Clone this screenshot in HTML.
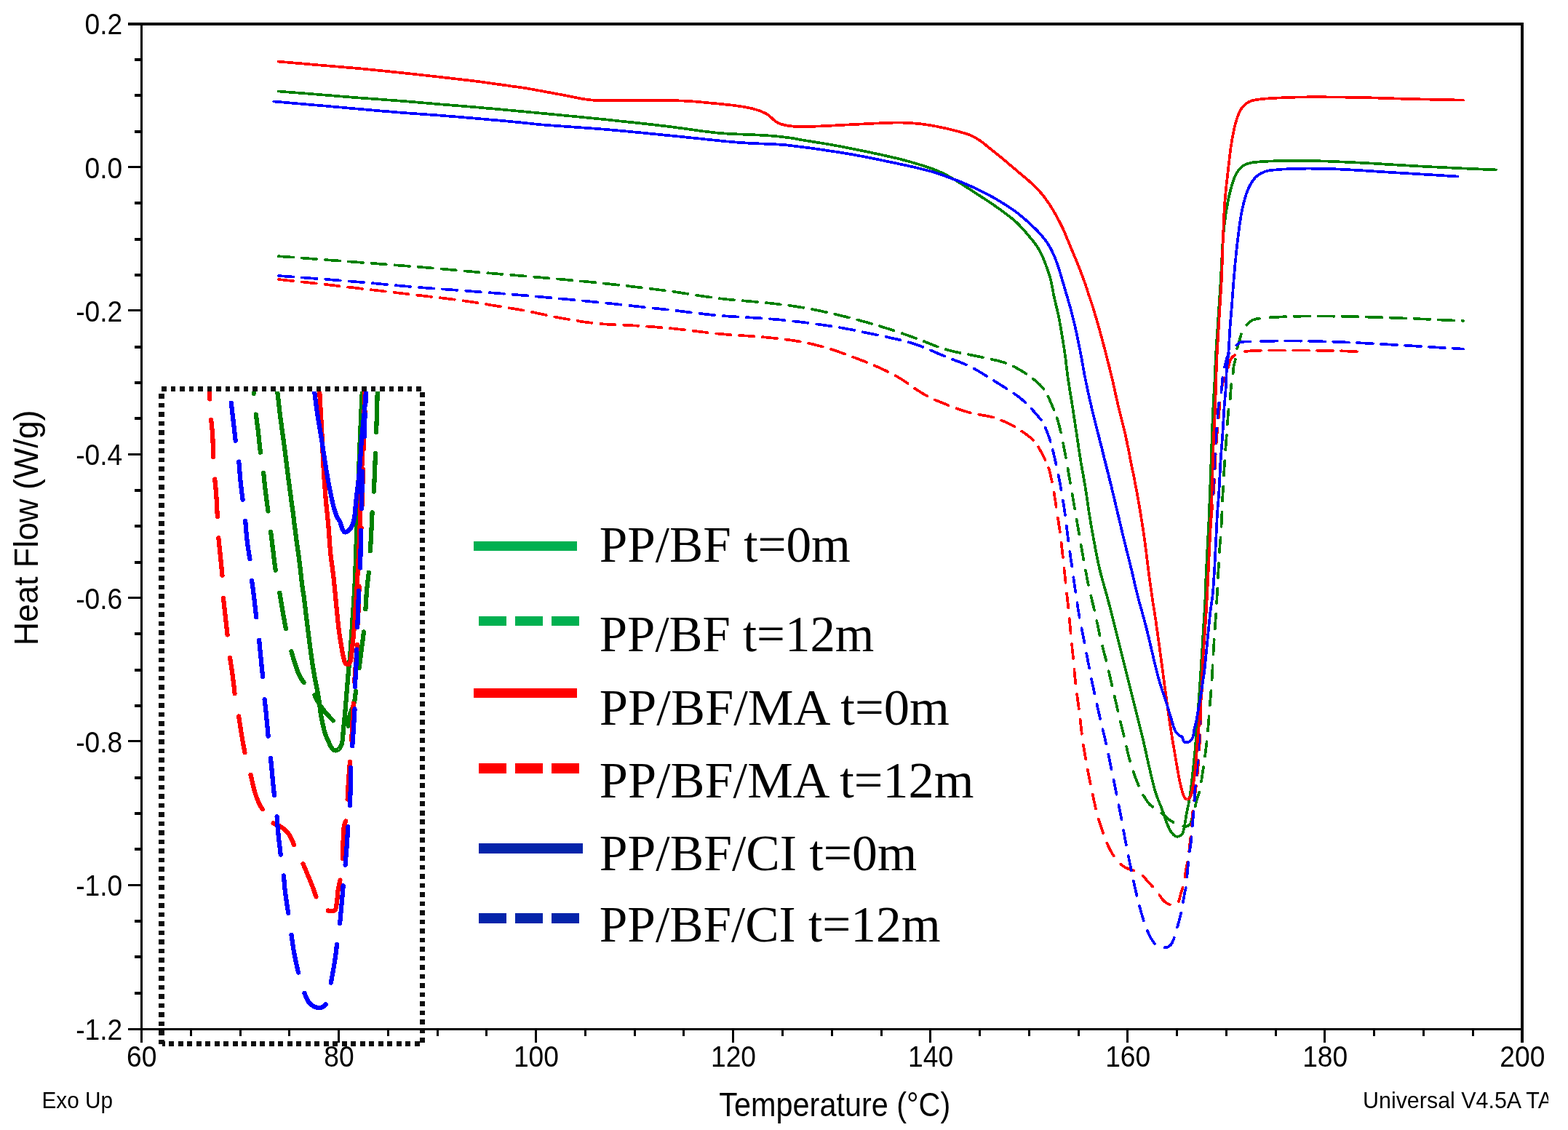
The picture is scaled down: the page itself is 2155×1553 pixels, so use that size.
<!DOCTYPE html>
<html lang="en"><head><meta charset="utf-8"><title>DSC Heat Flow vs Temperature</title>
<style>
html,body{margin:0;padding:0;background:#fff;}
body{width:2155px;height:1553px;overflow:hidden;}
svg{display:block;}
.ax{font-family:"Liberation Sans",Arial,Helvetica,sans-serif;fill:#000;}
.lg{font-family:"Liberation Serif","DejaVu Serif",serif;fill:#000;}
</style></head><body>
<svg width="2155" height="1553" viewBox="0 0 2155 1553" role="img" aria-label="DSC heat flow versus temperature chart">
<rect x="0" y="0" width="2155" height="1553" fill="#fff"/>
<defs><clipPath id="cin"><rect x="226" y="538" width="351" height="893"/></clipPath><clipPath id="cpage"><rect x="0" y="0" width="2128" height="1553"/></clipPath></defs>
<g fill="none" stroke-width="3.7" stroke-linejoin="round" stroke-linecap="round" shape-rendering="crispEdges">
<path d="M381 352L385.9 352.4L393.5 353L404.6 353.8L418.3 354.8L433.4 356L449 357.2L463.9 358.3L477.5 359.3L490.1 360.3L502.2 361.2L514.2 362.1L526.1 363L538.1 364L550.1 364.9L562 365.8L574.1 366.8L586.4 367.8L598.9 368.9L611.5 370L624 371.1L636.3 372.2L648.1 373.3L659.2 374.2L668.8 375.1L676.7 375.7L683.3 376.3L689.3 376.8L695.1 377.3L700.9 377.8L706.9 378.3L713.6 378.8L721.6 379.5L731.5 380.4L743 381.4L755.4 382.5L768.2 383.6L781.3 384.8L794.5 386L807.6 387.2L820.5 388.5L833.3 389.9L846.1 391.3L859 392.7L871.9 394.2L884.6 395.7L897 397.2L909 398.7L919.9 400.1L929.6 401.5L938.5 402.8L946.9 404.1L955.2 405.4L963.3 406.7L971.5 407.9L979.7 409.1L988 410.1L996.4 411.1L1004.9 411.9L1013.4 412.7L1022 413.4L1030.4 414.1L1038.7 414.8L1046.8 415.5L1054.4 416.3L1061.4 417L1067.9 417.8L1074.2 418.6L1080.4 419.3L1086.6 420.2L1092.8 421.1L1098.9 422L1105.1 423L1111.4 424.2L1117.7 425.4L1124 426.6L1130.3 428L1136.6 429.3L1142.9 430.8L1149.1 432.2L1155.4 433.7L1161.7 435.2L1168 436.8L1174.3 438.4L1180.5 440.1L1186.8 441.8L1193.1 443.5L1199.3 445.3L1205.6 447.1L1211.9 449.1L1218.3 451.1L1224.6 453.1L1230.9 455.2L1237.2 457.3L1243.5 459.5L1249.6 461.6L1255.6 463.8L1261.4 465.9L1266.9 468.1L1272.4 470.2L1277.9 472.4L1283.3 474.6L1288.8 476.6L1294.4 478.5L1300.2 480.3L1306.3 482L1312.6 483.5L1319 484.9L1325.5 486.2L1331.9 487.4L1338.2 488.6L1344.2 489.8L1349.7 491L1354.6 492.1L1359.1 493L1363.4 494L1367.7 494.9L1371.8 495.9L1375.8 497L1379.8 498.2L1383.6 499.5L1387.2 501L1390.8 502.6L1394.2 504.2L1397.6 506L1400.9 507.9L1404.1 509.8L1407.3 511.8L1410.5 513.9L1413.7 516.1L1416.8 518.4L1420 520.8L1423 523.2L1426 525.7L1428.8 528.4L1431.5 531.2L1433.9 534.1L1436.1 537.2L1438.1 540.5L1440 544L1441.7 547.6L1443.3 551.1L1444.8 554.5L1446.1 557.6L1447.2 560.2L1448.1 562.2L1448.7 563.7L1449.3 565.1L1449.9 566.4L1450.4 567.7L1450.9 569.1L1451.5 570.6L1452.1 572.5" stroke="#008000" stroke-dasharray="20.34 11.70" stroke-dashoffset="-1.85"/>
<path d="M1452.1 572.5L1452.8 574.8L1453.6 577.4L1454.5 580.3L1455.3 583.3L1456.1 586.4L1456.9 589.6L1457.7 593L1458.5 596.5L1459.4 600.4L1460.3 604.6L1461.1 609L1462 613.4L1462.8 618L1463.7 622.5L1464.5 627L1465.3 631.5L1466.1 635.9L1466.9 640.3L1467.7 644.7L1468.4 649.1L1469.2 653.5L1470 657.9L1470.7 662.3L1471.5 666.7L1472.3 671.1L1473 675.5L1473.8 680L1474.6 684.4L1475.3 688.8L1476.1 693.2L1476.8 697.6L1477.6 702L1478.3 706.3L1479.1 710.6L1479.8 714.9L1480.5 719.2L1481.3 723.4L1482 727.7L1482.8 732L1483.5 736.3L1484.3 740.7L1485 745.1L1485.8 749.5L1486.6 753.9L1487.3 758.3L1488.1 762.8L1488.9 767.2L1489.7 771.6L1490.5 776L1491.3 780.4L1492.1 784.9L1493 789.3L1493.8 793.7L1494.7 798.1L1495.6 802.5L1496.5 806.9L1497.5 811.3L1498.5 815.7L1499.6 820.1L1500.7 824.5L1501.7 828.9L1502.8 833.3L1503.9 837.7L1504.9 842.1L1505.8 846.4L1506.8 850.7L1507.7 855L1508.6 859.3L1509.5 863.5L1510.4 867.8L1511.3 872.1L1512.3 876.4L1513.4 880.8L1514.5 885.2L1515.6 889.6L1516.7 894L1517.8 898.4L1519 902.9L1520.1 907.3L1521.2 911.7L1522.2 916.1L1523.3 920.5L1524.3 924.9L1525.3 929.3L1526.4 933.7L1527.4 938.1L1528.4 942.5L1529.4 946.9L1530.4 951.2L1531.4 955.5L1532.4 959.8L1533.4 964.1L1534.4 968.4L1535.4 972.7L1536.4 977L1537.4 981.3L1538.4 985.6L1539.4 989.9L1540.5 994.1L1541.5 998.4L1542.6 1002.7L1543.6 1007L1544.6 1011.3L1545.7 1015.6L1546.7 1020L1547.8 1024.4L1548.8 1028.8L1549.8 1033.3L1550.8 1037.7L1552 1042.1L1553.2 1046.5L1554.5 1051L1555.9 1055.6L1557.5 1060.3L1559.2 1065.1L1560.9 1069.8L1562.7 1074.4L1564.4 1078.6L1566 1082.4L1567.3 1085.4L1568.3 1087.5L1569.1 1089.1L1569.8 1090.4L1570.5 1091.6L1571.2 1092.8L1572 1093.9L1572.7 1095.1L1573.5 1096.3L1574.4 1097.6L1575.2 1099L1576.1 1100.3L1577 1101.6L1577.9 1102.9L1578.9 1104.2L1579.9 1105.4L1581 1106.4L1582.2 1107.4L1583.4 1108.3L1584.7 1109.1L1586.1 1109.9L1587.4 1110.7L1588.7 1111.4L1590 1112.2L1591.1 1113L1592.2 1113.8L1593.2 1114.6L1594.1 1115.4L1595 1116.2L1595.9 1117L1596.8 1117.8L1597.7 1118.6L1598.6 1119.4L1599.5 1120.2L1600.4 1121L1601.3 1121.9L1602.2 1122.7L1603.1 1123.5L1604.1 1124.3L1605 1125.1L1606 1125.9L1607.1 1126.7L1608.2 1127.4L1609.4 1128.2L1610.5 1128.9L1611.7 1129.6L1612.9 1130.2L1614.1 1130.9L1615.3 1131.5L1616.4 1132.1L1617.5 1132.6L1618.7 1133.1L1619.8 1133.6L1620.9 1134.1L1622 1134.5L1623.1 1134.9L1624.1 1135.2L1625.1 1135.4L1626 1135.6L1626.9 1135.7L1627.8 1135.8L1628.7 1135.9L1629.5 1135.9L1630.3 1135.8L1631.1 1135.7L1631.8 1135.4L1632.4 1135.1L1633 1134.8L1633.7 1134.4L1634.2 1133.9L1634.8 1133.4L1635.2 1132.9L1635.7 1132.4L1636 1131.8L1636.3 1131.2L1636.6 1130.6L1636.8 1129.9L1637 1129.2L1637.2 1128.4L1637.4 1127.6L1637.7 1126.5L1638.1 1125L1638.7 1123.1L1639.3 1121L1639.9 1118.8L1640.5 1116.5L1641.1 1114.3L1641.6 1112.2L1642.1 1110.3" stroke="#008000" stroke-dasharray="20.83 14.70" stroke-dashoffset="-1.85"/>
<path d="M1642.1 1110.3L1642.6 1108.7L1642.9 1107.2L1643.3 1105.8L1643.6 1104.4L1643.9 1103.1L1644.3 1101.7L1644.6 1100.4L1645 1099L1645.5 1097.5L1645.9 1096.1L1646.4 1094.6L1646.9 1093.1L1647.4 1091.7L1647.9 1090.2L1648.3 1088.8L1648.7 1087.4L1649 1086L1649.3 1084.8L1649.5 1083.6L1649.7 1082.3L1649.9 1081.1L1650.1 1079.8L1650.4 1078.3L1650.7 1076.4L1651.1 1074L1651.5 1071L1652 1067.7L1652.5 1064.3L1653 1060.9L1653.5 1057.7L1653.9 1054.7L1654.2 1052.3L1654.5 1050.5L1654.7 1049.1L1654.9 1047.9L1655.1 1046.7L1655.2 1045.5L1655.4 1044.3L1655.6 1042.9L1655.9 1041.1L1656.2 1038.7L1656.6 1035.7L1657 1032.5L1657.4 1029.1L1657.8 1025.7L1658.2 1022.4L1658.6 1019.4L1658.8 1017L1659 1015.2L1659.2 1013.8L1659.3 1012.6L1659.4 1011.5L1659.5 1010.3L1659.6 1009.1L1659.8 1007.6L1660 1005.6L1660.2 1002.7L1660.5 999L1660.8 994.8L1661.2 990.4L1661.5 985.8L1661.9 981.1L1662.2 976.5L1662.6 972L1663 967.6L1663.3 963.2L1663.7 958.8L1664 954.4L1664.4 950L1664.8 945.5L1665.1 941.1L1665.4 936.7L1665.7 932.3L1665.9 927.9L1666.2 923.5L1666.4 919.1L1666.6 914.7L1666.8 910.3L1667.1 905.9L1667.3 901.5L1667.6 897.2L1667.8 892.8L1668.1 888.5L1668.4 884.1L1668.7 879.8L1668.9 875.6L1669.2 871.3L1669.5 867.2L1669.8 863.3L1670 859.6L1670.3 855.9L1670.6 852.2L1670.8 848.5L1671.1 844.7L1671.3 840.8L1671.6 836.7L1671.9 832.2L1672.2 827.4L1672.5 822.5L1672.7 817.5L1673 812.5L1673.3 807.5L1673.5 802.5L1673.8 797.7L1674 793.1L1674.2 788.7L1674.5 784.2L1674.7 779.8L1674.9 775.4L1675.1 771.1L1675.3 766.7L1675.6 762.3L1675.9 757.9L1676.3 753.5L1676.6 749.1L1677 744.7L1677.4 740.3L1677.8 735.9L1678.1 731.5L1678.4 727.1L1678.6 722.7L1678.8 718.3L1679 713.9L1679.2 709.5L1679.4 705L1679.5 700.6L1679.7 696.2L1679.9 691.8L1680.1 687.4L1680.3 683L1680.6 678.6L1680.8 674.1L1681.1 669.7L1681.3 665.3L1681.5 660.9L1681.8 656.5L1682.1 652.1L1682.3 647.7L1682.6 643.3L1682.8 638.9L1683.1 634.5L1683.4 630.1L1683.7 625.7L1684 621.3L1684.3 616.8L1684.7 612.3L1685 607.8L1685.4 603.3L1685.8 598.8L1686.1 594.4L1686.5 590.2L1686.8 586.3L1687 582.7L1687.2 579.4L1687.4 576.1L1687.6 573L1687.9 570L1688.1 567.1L1688.3 564.5L1688.6 562.3L1688.8 560.7L1689 559.5L1689.3 558.5L1689.5 557.5L1689.7 556.5L1690 555.4L1690.2 554.2L1690.4 552.4L1690.7 550L1690.9 547L1691.1 543.7L1691.3 540.1L1691.5 536.6L1691.8 533.1L1692 530L1692.3 527.5L1692.5 525.6L1692.8 524.1L1693 522.8L1693.3 521.6L1693.6 520.4L1693.8 519.2L1694.1 517.9L1694.3 516.5L1694.5 515L1694.6 513.4L1694.8 511.8L1694.9 510.1L1695.1 508.5L1695.2 506.8L1695.4 505.2L1695.6 503.6L1695.9 502.1L1696.2 500.6L1696.5 499.1L1696.9 497.6L1697.3 496.2L1697.6 494.7L1697.9 493.3L1698.2 491.8L1698.4 490.5L1698.5 489.2L1698.7 487.9L1698.8 486.6L1698.9 485.3L1699.1 484L1699.3 482.7L1699.5 481.4L1699.8 480.1L1700.2 478.8L1700.6 477.5L1701 476.3L1701.4 475L1701.8 473.7L1702.3 472.3L1702.7 470.9L1703.1 469.3L1703.6 467.6L1704 465.9L1704.4 464.2L1704.9 462.4L1705.4 460.7L1706 459L1706.6 457.5L1707.3 456L1708 454.6L1708.7 453.2L1709.5 451.9L1710.4 450.6L1711.3 449.4L1712.2 448.2L1713.1 447L1714 446L1715 444.9L1716 443.9L1717 443L1718.1 442.1L1719.2 441.3L1720.4 440.5L1721.7 439.8L1723.1 439.3L1724.7 438.8L1726.3 438.4L1727.9 438.1L1729.7 437.9L1731.5 437.6L1733.4 437.4L1735.6 437.2L1738.1 436.9L1740.9 436.6L1743.8 436.4" stroke="#008000" stroke-dasharray="20.48 14.70" stroke-dashoffset="-1.85"/>
<path d="M1743.8 436.4L1746.8 436.2L1750 436L1753.2 435.8L1756.7 435.7L1760.5 435.5L1764.8 435.3L1769.6 435.1L1774.7 435L1779.9 434.8L1785.3 434.7L1790.8 434.6L1796.6 434.6L1803 434.5L1810.3 434.5L1818.4 434.5L1826.8 434.6L1835.4 434.7L1844.2 434.9L1853 435L1861.7 435.2L1870.3 435.4L1878.7 435.6L1887.1 435.9L1895.4 436.1L1903.7 436.4L1912 436.7L1920.4 437L1928.9 437.4L1938 437.7L1948.1 438.2L1959.3 438.6L1971 439.2L1982.6 439.7L1993 440.2L2001.4 440.6L2007.2 440.8L2011 441.0" stroke="#008000" stroke-dasharray="21.90 11.10" stroke-dashoffset="-1.85"/>
<path d="M381 383.9L384.2 384.2L389.1 384.7L396.3 385.5L405.1 386.4L415 387.5L425.1 388.5L434.8 389.6L443.7 390.6L452 391.5L460.1 392.4L468.1 393.3L476.1 394.3L484.1 395.2L492.1 396.1L500.1 397.1L508.1 398L516 398.9L523.9 399.8L531.8 400.8L539.6 401.7L547.5 402.6L555.4 403.5L563.3 404.5L571.3 405.4L579.3 406.3L587.4 407.3L595.5 408.2L603.7 409.1L611.8 410.1L620 411.1L628.1 412.1L636.3 413.2L644.6 414.5L653.1 415.7L661.7 417.1L670.3 418.5L678.5 419.9L686.2 421.1L693.2 422.3L698.7 423.2L702.6 423.8L705.5 424.2L707.9 424.6L710.1 425L712.4 425.3L714.7 425.7L717.4 426.2L720.9 426.8L725.6 427.7L731.2 428.9L737.3 430.2L743.8 431.6L750.4 433L757.1 434.4L763.7 435.7L770.1 437L776.5 438.1L782.8 439.2L789 440.3L795.3 441.3L801.6 442.3L807.9 443.1L814.2 443.9L820.5 444.6L826.8 445.2L833 445.6L839.3 446L845.6 446.3L851.9 446.5L858.1 446.8L864.4 447.1L870.7 447.4L876.9 447.8L883.1 448.2L889.2 448.6L895.4 449L901.6 449.5L907.9 450L914.4 450.5L921.4 451.2L929 452L937.1 452.9L945.4 453.9L953.8 454.9L962.4 455.9L970.9 456.9L979.4 457.9L987.9 458.7L996.4 459.5L1004.9 460.1L1013.4 460.7L1022 461.3L1030.4 461.8L1038.7 462.4L1046.8 463.1L1054.4 463.8L1061.5 464.5L1068.2 465.2L1074.7 466L1081.1 466.8L1087.3 467.6L1093.4 468.5L1099.2 469.5L1104.6 470.5L1109.5 471.4L1113.9 472.4L1118.2 473.3L1122.3 474.4L1126.4 475.4L1130.4 476.5L1134.5 477.7L1138.6 478.9L1142.8 480.2L1147 481.6L1151.2 483L1155.4 484.5L1159.6 486L1163.8 487.5L1167.9 489L1172.1 490.6L1176.3 492.2L1180.6 493.8L1184.8 495.4L1189 497.1L1193.2 498.8L1197.4 500.5L1201.5 502.2L1205.5 504L1209.4 505.7L1213.2 507.5L1217 509.3L1220.7 511.1L1224.5 513L1228.2 514.9L1232 517L1235.9 519.3L1240 521.8L1244.2 524.6L1248.5 527.6L1252.8 530.6L1257.1 533.7L1261.4 536.6L1265.7 539.3L1269.8 541.8L1273.7 543.9L1277.5 545.9L1281.2 547.7L1284.9 549.4L1288.6 551L1292.4 552.6L1296.2 554.1L1300.1 555.7L1304.1 557.3L1308.2 558.9L1312.4 560.5L1316.6 562L1320.8 563.4L1325 564.8L1329.3 566.1L1333.5 567.3L1337.7 568.3L1342 569.2L1346.2 570L1350.5 570.7L1354.7 571.4L1358.9 572.2L1363 573.1L1366.9 574.2L1370.7 575.4L1374.4 576.9L1378.1 578.4L1381.8 580L1385.2 581.6L1388.4 583.2L1391.1 584.5L1393.2 585.6L1394.6 586.4L1395.6 586.9L1396.3 587.3L1397 587.7L1397.7 588.2L1398.4 588.6L1399.2 589.2L1400.4 589.9L1401.9 591L1403.9 592.4L1406.1 593.9L1408.4 595.5L1410.7 597.1L1412.8 598.8L1414.8 600.3L1416.4 601.6L1417.6 602.6L1418.5 603.4L1419.4 604.1L1420.1 604.8L1420.9 605.6L1421.6 606.4L1422.4 607.4L1423.5 608.7L1424.7 610.6L1426.3 613L1427.9 615.7L1429.5 618.6L1431.1 621.5L1432.6 624.3L1433.9 627L1435.1 629.2L1436 631L1436.8 632.5L1437.5 633.8L1438.1 635.1L1438.7 636.4L1439.3 637.7L1439.9 639.2L1440.6 641.1" stroke="#ff0000" stroke-dasharray="20.22 11.70" stroke-dashoffset="-1.85"/>
<path d="M1440.6 641.1L1441.3 643.4L1442.1 646L1442.9 648.9L1443.6 652L1444.3 655.1L1445 658.3L1445.7 661.6L1446.4 665.2L1447.2 669L1447.9 673.1L1448.6 677.3L1449.3 681.7L1450 686L1450.7 690.4L1451.3 694.8L1452 699.2L1452.7 703.6L1453.4 708L1454 712.4L1454.7 716.8L1455.3 721.2L1456 725.7L1456.6 730.1L1457.2 734.5L1457.8 738.9L1458.3 743.3L1458.8 747.7L1459.3 752.1L1459.8 756.5L1460.3 760.9L1460.8 765.3L1461.3 769.7L1461.8 774.1L1462.2 778.5L1462.7 783L1463.2 787.4L1463.6 791.8L1464.1 796.2L1464.5 800.6L1465 805L1465.5 809.3L1465.9 813.6L1466.4 817.9L1466.9 822.2L1467.3 826.4L1467.8 830.7L1468.3 835L1468.7 839.3L1469.1 843.7L1469.5 848.1L1470 852.5L1470.4 856.9L1470.8 861.3L1471.2 865.7L1471.6 870.1L1472 874.5L1472.4 878.9L1472.9 883.3L1473.3 887.7L1473.7 892.1L1474.2 896.6L1474.6 901L1475.1 905.4L1475.5 909.8L1475.9 914.2L1476.3 918.6L1476.7 923.1L1477.1 927.5L1477.5 931.9L1478 936.3L1478.4 940.7L1478.9 945.1L1479.4 949.4L1480 953.7L1480.6 958L1481.2 962.3L1481.8 966.5L1482.4 970.8L1482.9 975.1L1483.5 979.4L1484 983.8L1484.5 988.2L1485 992.6L1485.5 997L1486 1001.4L1486.5 1005.9L1487 1010.3L1487.6 1014.7L1488.3 1019.1L1488.9 1023.6L1489.6 1028L1490.3 1032.4L1491.1 1036.8L1491.8 1041.2L1492.6 1045.6L1493.4 1050L1494.2 1054.3L1495 1058.6L1495.8 1062.8L1496.7 1067.1L1497.5 1071.3L1498.4 1075.6L1499.3 1079.8L1500.2 1084.1L1501.1 1088.5L1502 1092.9L1502.9 1097.3L1503.8 1101.7L1504.8 1106.2L1505.8 1110.6L1506.9 1115L1508.1 1119.5L1509.4 1124.1L1510.8 1128.8L1512.3 1133.6L1513.9 1138.3L1515.4 1142.9L1516.9 1147.1L1518.3 1151L1519.4 1154L1520.3 1156.2L1520.9 1157.8L1521.5 1159.2L1522.1 1160.5L1522.6 1161.7L1523.2 1162.9L1523.8 1164.2L1524.4 1165.4L1525 1166.6L1525.7 1167.9L1526.3 1169.1L1527 1170.3L1527.7 1171.5L1528.4 1172.7L1529.1 1173.9L1530 1175.2L1530.9 1176.5L1531.9 1177.9L1532.9 1179.3L1534 1180.7L1535.1 1182.1L1536.2 1183.4L1537.2 1184.6L1538.2 1185.6L1539 1186.5L1539.6 1187.1L1540.3 1187.8L1540.9 1188.3L1541.6 1188.9L1542.3 1189.4L1543 1190L1543.9 1190.6L1545 1191.2L1546.2 1191.9L1547.4 1192.6L1548.8 1193.2L1550.1 1193.9L1551.5 1194.5L1552.8 1195L1554 1195.4L1555.2 1195.8L1556.2 1196L1557.3 1196.2L1558.3 1196.4L1559.4 1196.5L1560.4 1196.8L1561.4 1197.1L1562.4 1197.5L1563.5 1198L1564.6 1198.7L1565.7 1199.5L1566.7 1200.3L1567.8 1201.2L1568.8 1202.1L1569.8 1203L1570.8 1203.9L1571.8 1204.9L1572.7 1205.9L1573.6 1206.9L1574.5 1207.9L1575.4 1209L1576.3 1210L1577.3 1211.1L1578.3 1212.3L1579.4 1213.5L1580.5 1214.7L1581.7 1216L1582.9 1217.3L1584.1 1218.6L1585.3 1219.9L1586.4 1221.1L1587.4 1222.3L1588.4 1223.5L1589.2 1224.5L1590 1225.6L1590.8 1226.6L1591.6 1227.7L1592.4 1228.7L1593.2 1229.8L1594 1230.8L1594.8 1231.9L1595.5 1233L1596.3 1234.1L1597.1 1235.1L1597.8 1236.2L1598.7 1237.2L1599.6 1238.2L1600.6 1239.1L1601.7 1240L1602.9 1240.8L1604.2 1241.6L1605.6 1242.3L1606.9 1242.9L1608.2 1243.5L1609.5 1243.9L1610.5 1244.2L1611.4 1244.4L1612.2 1244.5L1612.9 1244.5L1613.5 1244.5L1614.2 1244.5L1614.8 1244.3L1615.4 1244.2L1616 1244L1616.4 1243.8L1616.9 1243.5L1617.3 1243.2L1617.6 1242.8L1618 1242.4L1618.3 1242L1618.7 1241.5L1619.1 1240.8" stroke="#ff0000" stroke-dasharray="20.18 14.70" stroke-dashoffset="-1.85"/>
<path d="M1619.1 1240.8L1619.5 1239.8L1620 1238.5L1620.5 1237L1621 1235.4L1621.4 1233.8L1621.8 1232.1L1622.3 1230.5L1622.7 1228.9L1623.1 1227.5L1623.6 1226L1624 1224.6L1624.5 1223.1L1624.9 1221.7L1625.3 1220.3L1625.7 1218.8L1626.1 1217.4L1626.4 1216.1L1626.7 1214.7L1627 1213.4L1627.3 1212L1627.5 1210.7L1627.8 1209.4L1628.1 1208L1628.3 1206.5L1628.5 1205L1628.8 1203.4L1629 1201.8L1629.2 1200.1L1629.4 1198.5L1629.7 1196.8L1629.9 1195.2L1630.2 1193.6L1630.5 1192.1L1630.9 1190.7L1631.2 1189.2L1631.6 1187.8L1632 1186.3L1632.3 1184.8L1632.7 1183.2L1633 1181.3L1633.4 1178.9L1633.7 1176.2L1634 1173.2L1634.3 1170.2L1634.6 1167.2L1634.8 1164.2L1635.1 1161.3L1635.4 1158.6L1635.7 1156.3L1636 1154.2L1636.2 1152.3L1636.5 1150.3L1636.8 1148.3L1637.1 1146.3L1637.4 1144.1L1637.6 1141.6L1637.8 1138.7L1638.1 1135.5L1638.3 1132L1638.4 1128.5L1638.6 1124.9L1638.8 1121.2L1639.1 1117.5L1639.5 1113.7L1639.9 1109.7L1640.4 1105.7L1641 1101.5L1641.6 1097.4L1642.2 1093.2L1642.8 1088.8L1643.4 1084.4L1644 1079.7L1644.6 1074.6L1645.1 1069.2L1645.7 1063.6L1646.2 1057.9L1646.7 1052.1L1647.1 1046.2L1647.6 1040.1L1648 1033.4L1648.5 1026L1648.9 1018L1649.3 1009.7L1649.6 1001.2L1650 992.7L1650.3 984.1L1650.6 975.5L1651 967L1651.4 958.6L1651.7 950.2L1652.1 941.8L1652.5 933.4L1652.9 925.1L1653.2 916.7L1653.6 908.4L1654 900.1L1654.4 892L1654.7 884L1655.1 876L1655.4 868.1L1655.8 860L1656.2 851.9L1656.6 843.4L1657 834.2L1657.5 824.1L1658.1 813.2L1658.6 801.8L1659.2 790.3L1659.8 778.8L1660.4 767.3L1661.1 756.2L1661.8 745.5L1662.6 735.5L1663.4 725.9L1664.2 716.5L1665.1 707.2L1666 698L1666.8 688.9L1667.6 680L1668.2 671.3L1668.8 663L1669.2 655L1669.6 647L1670 639.2L1670.3 631.5L1670.7 624.1L1671.1 617.1L1671.5 610.7L1671.9 605.3L1672.3 600.5L1672.7 595.9L1673.2 591.5L1673.6 587.2L1674 583L1674.4 579L1674.8 575.4L1675 572.2L1675.3 569.3L1675.5 566.6L1675.7 563.9L1675.9 561.3L1676.1 558.6L1676.4 555.8L1676.7 552.7L1677.1 549.3L1677.6 545.6L1678.1 541.7L1678.6 537.8L1679.2 534L1679.8 530.2L1680.5 526.6L1681.3 523.3L1682.1 520.4L1683 517.7L1683.9 515.1L1684.9 512.6L1685.9 510.2L1686.8 507.9L1687.6 505.8L1688.3 503.9L1688.7 502.3L1689.1 501L1689.4 499.8L1689.6 498.6L1689.9 497.5L1690.2 496.4L1690.6 495.4L1691 494.5L1691.5 493.6L1692.1 492.7L1692.7 491.9L1693.3 491.2L1694 490.5L1694.7 489.8L1695.5 489.2L1696.2 488.6L1696.9 488.2L1697.7 487.8L1698.5 487.4L1699.3 487.1L1700.2 486.9L1701 486.6L1701.9 486.3L1702.7 486L1703.5 485.6L1704.4 485.2L1705.2 484.9L1706 484.5L1706.9 484.1L1707.9 483.8L1709.3 483.4" stroke="#ff0000" stroke-dasharray="20.47 14.70" stroke-dashoffset="-1.85"/>
<path d="M1709.3 483.4L1711.6 483L1715.7 482.5L1721.5 482.1L1728.4 481.8L1736.1 481.7L1744.3 481.6L1752.6 481.6L1760.9 481.6L1769.1 481.6L1777.4 481.6L1786 481.6L1794.9 481.6L1803.7 481.6L1812.3 481.7L1820.6 481.8L1828.3 482L1835 482.1L1840.6 482.2L1845.7 482.4L1850.6 482.6L1855.2 482.8L1859.2 483L1862.4 483.1L1864.6 483.2L1866 483.3" stroke="#ff0000" stroke-dasharray="21.90 11.10" stroke-dashoffset="-1.85"/>
<path d="M381 378.9L385.9 379.3L393.5 379.8L404.5 380.6L418.2 381.7L433.4 382.8L448.9 384L463.9 385.2L477.6 386.3L490.4 387.4L502.9 388.4L515.2 389.5L527.6 390.7L539.9 391.8L552.2 392.9L564.5 394L576.8 395L589.1 396L601.5 396.9L613.9 397.8L626.3 398.7L638.4 399.6L650 400.5L660.9 401.3L670.3 402L678 402.6L684.4 403.1L690.2 403.5L695.8 404L701.5 404.4L707.3 404.9L713.8 405.5L721.6 406.1L731.5 407L742.9 408L755.3 409.1L768.1 410.3L781.3 411.5L794.5 412.8L807.5 414L820.4 415.3L833.3 416.6L846.1 417.9L859 419.3L871.9 420.7L884.6 422L897 423.4L908.9 424.7L919.9 425.9L929.6 427L938.5 428.1L946.9 429.1L955.2 430.1L963.3 431.1L971.5 432L979.7 432.9L988 433.6L996.4 434.3L1004.9 434.9L1013.4 435.5L1022 435.9L1030.4 436.4L1038.7 436.9L1046.8 437.4L1054.4 438L1061.4 438.6L1067.9 439.1L1074.2 439.7L1080.4 440.3L1086.6 441L1092.7 441.7L1098.9 442.4L1105.1 443.1L1111.4 443.9L1117.7 444.7L1124 445.6L1130.3 446.5L1136.6 447.4L1142.8 448.4L1149.1 449.4L1155.4 450.4L1161.7 451.5L1168 452.7L1174.3 453.9L1180.5 455.2L1186.8 456.5L1193.1 457.8L1199.3 459.1L1205.6 460.5L1211.9 461.8L1218.3 463.1L1224.6 464.5L1231 465.8L1237.3 467.3L1243.5 468.8L1249.7 470.5L1255.7 472.3L1261.5 474.3L1267.2 476.4L1272.9 478.7L1278.5 481.1L1284 483.5L1289.4 485.9L1294.7 488.1L1299.7 490.2L1304.3 492.1L1308.7 493.7L1312.9 495.3L1317.1 496.9L1321.2 498.5L1325.3 500.2L1329.4 502L1333.6 503.9L1337.8 506.1L1342 508.4L1346.2 510.9L1350.4 513.4L1354.5 516L1358.7 518.6L1362.9 521.3L1367.1 523.9L1371.4 526.6L1375.8 529.3L1380.2 532.1L1384.6 534.9L1388.9 537.6L1393 540.4L1396.8 543L1400 545.4L1402.7 547.5L1404.9 549.4L1406.9 551.2L1408.8 553L1410.7 554.8L1412.4 556.6L1414.1 558.3L1415.7 559.9L1417 561.3L1418.3 562.6L1419.5 563.9L1420.6 565.2L1421.8 566.4L1422.8 567.7L1423.9 568.9L1425 570.2L1426 571.3L1427 572.4L1427.9 573.5L1428.8 574.5L1429.8 575.6L1430.7 576.8L1431.6 578.2L1432.7 579.9L1433.9 582.1L1435.2 584.6L1436.5 587.5L1437.8 590.5L1439.1 593.7L1440.3 596.9L1441.5 600.3L1442.7 603.9L1444 607.8L1445.2 612L1446.3 616.4" stroke="#0000ff" stroke-dasharray="20.58 11.70" stroke-dashoffset="-1.85"/>
<path d="M1446.3 616.4L1447.5 620.8L1448.5 625.4L1449.6 629.9L1450.6 634.4L1451.6 638.8L1452.5 643.2L1453.5 647.5L1454.4 651.8L1455.2 656L1456.1 660.3L1456.9 664.6L1457.7 668.9L1458.5 673.2L1459.3 677.6L1460 682L1460.7 686.4L1461.4 690.8L1462.1 695.2L1462.7 699.7L1463.4 704.1L1464 708.5L1464.6 712.9L1465.1 717.3L1465.7 721.7L1466.2 726.2L1466.7 730.6L1467.2 735L1467.8 739.4L1468.3 743.8L1468.9 748.2L1469.5 752.6L1470.1 757L1470.8 761.4L1471.4 765.8L1472 770.2L1472.7 774.6L1473.3 779L1473.9 783.4L1474.5 787.8L1475.2 792.3L1475.8 796.7L1476.4 801.1L1477 805.5L1477.7 809.9L1478.3 814.2L1478.9 818.5L1479.5 822.7L1480.2 826.8L1480.8 831L1481.4 835.1L1482.1 839.3L1482.8 843.5L1483.5 847.8L1484.3 852.2L1485.2 856.7L1486.1 861.2L1487 865.7L1487.9 870.3L1488.8 874.8L1489.7 879.3L1490.6 883.7L1491.4 888.1L1492.2 892.4L1493 896.7L1493.8 901L1494.6 905.3L1495.4 909.6L1496.3 913.9L1497.1 918.3L1498 922.7L1498.9 927.2L1499.8 931.8L1500.7 936.3L1501.7 940.9L1502.6 945.4L1503.5 949.9L1504.5 954.3L1505.4 958.7L1506.4 963L1507.4 967.3L1508.3 971.6L1509.3 975.9L1510.3 980.1L1511.3 984.4L1512.3 988.7L1513.3 993.1L1514.4 997.5L1515.4 1001.9L1516.5 1006.3L1517.5 1010.8L1518.6 1015.2L1519.6 1019.6L1520.6 1024L1521.5 1028.3L1522.4 1032.6L1523.3 1036.9L1524.2 1041.1L1525.1 1045.4L1525.9 1049.7L1526.8 1054L1527.7 1058.4L1528.6 1062.8L1529.6 1067.3L1530.5 1071.8L1531.4 1076.3L1532.3 1080.8L1533.3 1085.3L1534.2 1089.8L1535.1 1094.3L1536 1098.7L1536.9 1103.1L1537.7 1107.6L1538.6 1112L1539.5 1116.4L1540.3 1120.8L1541.2 1125.2L1542 1129.6L1542.8 1134L1543.6 1138.4L1544.4 1142.9L1545.2 1147.3L1546 1151.7L1546.8 1156.1L1547.7 1160.5L1548.5 1164.9L1549.3 1169.2L1550.2 1173.5L1551.1 1177.8L1551.9 1182.1L1552.8 1186.3L1553.7 1190.6L1554.6 1194.9L1555.5 1199.2L1556.4 1203.6L1557.4 1208L1558.3 1212.4L1559.2 1216.8L1560.2 1221.3L1561.2 1225.7L1562.3 1230.1L1563.3 1234.6L1564.5 1239.1L1565.7 1243.8L1566.9 1248.5L1568.2 1253.2L1569.5 1257.7L1570.7 1261.9L1571.8 1265.7L1572.8 1268.7L1573.5 1270.9L1574.1 1272.4L1574.6 1273.8L1575.1 1275.1L1575.7 1276.3L1576.2 1277.5L1576.7 1278.7L1577.3 1280.1L1577.9 1281.4L1578.6 1282.8L1579.2 1284.3L1579.9 1285.7L1580.6 1287.1L1581.3 1288.5L1582 1289.8L1582.8 1291L1583.5 1292.2L1584.3 1293.3L1585 1294.4L1585.8 1295.4L1586.6 1296.4L1587.5 1297.3L1588.4 1298.1L1589.3 1298.8L1590.3 1299.5L1591.3 1300L1592.3 1300.4L1593.4 1300.8L1594.5 1301.2L1595.6 1301.5L1596.6 1301.7L1597.6 1301.9L1598.5 1302L1599.4 1302.1L1600.2 1302.2L1601.1 1302.3L1601.9 1302.3L1602.7 1302.2L1603.4 1302.1L1604.2 1301.9L1605 1301.6L1605.7 1301.2L1606.4 1300.7L1607.1 1300.2L1607.8 1299.6L1608.5 1299L1609.1 1298.3L1609.7 1297.5L1610.4 1296.4L1611.1 1295.3L1611.7 1293.9L1612.3 1292.6L1612.9 1291.1L1613.4 1289.7L1613.9 1288.2L1614.4 1286.8L1614.8 1285.5L1615.3 1284.2L1615.7 1282.9L1616 1281.5L1616.4 1280.2L1616.8 1278.9L1617.1 1277.5L1617.5 1276.2" stroke="#0000ff" stroke-dasharray="20.78 14.70" stroke-dashoffset="-1.85"/>
<path d="M1617.5 1276.2L1617.9 1274.7L1618.4 1273.2L1618.8 1271.8L1619.2 1270.3L1619.7 1268.7L1620.1 1267.2L1620.5 1265.7L1620.9 1264.2L1621.3 1262.7L1621.6 1261.3L1622 1259.8L1622.3 1258.4L1622.7 1256.9L1623 1255.4L1623.4 1253.7L1623.8 1251.7L1624.2 1249.3L1624.8 1246.6L1625.3 1243.6L1625.8 1240.5L1626.4 1237.4L1626.9 1234.4L1627.4 1231.6L1627.8 1229.3L1628.2 1227.4L1628.5 1225.9L1628.8 1224.5L1629.1 1223.2L1629.4 1221.8L1629.7 1220.4L1629.9 1218.9L1630.2 1217L1630.5 1214.7L1630.8 1212L1631.1 1209L1631.4 1206L1631.6 1202.8L1631.9 1199.7L1632.1 1196.6L1632.4 1193.7L1632.7 1190.7L1633 1187.9L1633.3 1185L1633.6 1182.1L1633.9 1179.3L1634.2 1176.6L1634.5 1174L1634.8 1171.7L1635 1169.7L1635.3 1168L1635.5 1166.4L1635.8 1164.8L1636 1163.2L1636.3 1161.7L1636.5 1160L1636.7 1158.3L1636.9 1156.4L1637.1 1154.4L1637.3 1152.4L1637.5 1150.4L1637.7 1148.3L1637.9 1146.2L1638.1 1144.1L1638.3 1141.9L1638.5 1139.7L1638.7 1137.3L1638.9 1134.9L1639.1 1132.5L1639.2 1130.1L1639.4 1127.8L1639.6 1125.4L1639.8 1123.2L1640 1121.1L1640.2 1119L1640.4 1117L1640.6 1115.1L1640.8 1113.1L1641 1111.1L1641.1 1109L1641.3 1106.9L1641.4 1104.7L1641.5 1102.3L1641.7 1100L1641.7 1097.6L1641.8 1095.1L1641.9 1092.7L1642.1 1090.2L1642.2 1087.8L1642.4 1085.2L1642.6 1082.7L1642.8 1080.1L1643.1 1077.5L1643.3 1074.8L1643.6 1072.1L1643.8 1069.3L1644.1 1066.2L1644.5 1062.8L1644.8 1059.1L1645.2 1055.3L1645.6 1051.3L1645.9 1047.3L1646.3 1043L1646.7 1038.4L1647 1033L1647.4 1026.4L1647.8 1018.7L1648.2 1010.5L1648.6 1001.9L1648.9 993.2L1649.3 984.4L1649.6 975.6L1650 967.1L1650.4 958.6L1650.7 950.2L1651.1 941.8L1651.5 933.4L1651.9 925.1L1652.2 916.7L1652.6 908.4L1653 900.1L1653.4 892L1653.7 884L1654.1 876L1654.4 868.1L1654.8 860L1655.2 851.9L1655.6 843.4L1656 834.1L1656.6 823.5L1657.1 812L1657.7 799.8L1658.4 787.6L1659 775.7L1659.6 764.5L1660.2 754.6L1660.7 747L1661.1 741.7L1661.3 738L1661.6 735L1661.9 732.1L1662.1 729.3L1662.4 726.4L1662.7 723.1L1663.1 719.2L1663.5 714.4L1664 708.9L1664.6 702.9L1665.1 696.8L1665.7 690.4L1666.3 684L1666.8 677.4L1667.3 670.6L1667.8 663.4L1668.2 655.9L1668.6 648.1L1668.9 640.2L1669.3 632.4L1669.7 624.7L1670.1 617.3L1670.5 610.6L1670.9 604.5L1671.3 598.8L1671.7 593.3L1672.2 588L1672.6 582.9L1673 578L1673.4 573.5L1673.7 569.7L1674 566.6L1674.2 564.1L1674.3 561.8L1674.5 559.6L1674.7 557.5L1674.9 555.5L1675.1 553.6L1675.4 551.9L1675.7 550.5L1676 549.4L1676.3 548.3L1676.7 547.3L1677 546.2L1677.4 545.1L1677.7 543.8L1678 542.1L1678.4 539.7L1678.7 536.7L1679.1 533.4L1679.4 529.9L1679.6 526.3L1679.9 522.9L1680.2 519.7L1680.6 517L1680.9 514.9L1681.2 513.1L1681.5 511.4L1681.8 509.8L1682.1 508.3L1682.5 506.7L1682.8 505.2L1683.2 503.5L1683.6 501.8L1684 500.1L1684.5 498.3L1684.9 496.5L1685.4 494.8L1685.9 493.1L1686.4 491.6L1687 490.2L1687.4 489L1687.9 488L1688.3 487.1L1688.8 486.2L1689.3 485.3L1689.8 484.4L1690.4 483.6L1691.1 482.6L1691.9 481.7L1692.8 480.6L1693.8 479.6L1694.8 478.6L1695.8 477.6L1696.8 476.7L1697.8 475.8L1698.7 475L1699.4 474.3L1700 473.7L1700.6 473.1L1701.2 472.5L1701.8 472L1702.5 471.5L1703.2 471L1704.3 470.6L1705.7 470.2L1707.4 469.9L1709.3 469.7L1711.4 469.6L1713.6 469.6L1716 469.6L1718.6 469.5L1721.8 469.5L1726.1 469.3L1731.3 469.1" stroke="#0000ff" stroke-dasharray="20.47 14.70" stroke-dashoffset="-1.85"/>
<path d="M1731.3 469.1L1737 469L1743 468.8L1749.3 468.7L1755.8 468.6L1762.4 468.5L1769.4 468.5L1777.1 468.6L1785.2 468.6L1793.6 468.8L1802.2 468.9L1810.9 469.1L1819.6 469.4L1828.3 469.6L1836.8 469.9L1845.3 470.2L1853.7 470.6L1862.1 471L1870.4 471.4L1878.8 471.8L1887.2 472.3L1895.5 472.7L1904 473.2L1912.5 473.7L1921.1 474.2L1929.7 474.7L1938.3 475.2L1946.8 475.7L1955.1 476.2L1963 476.7L1970.2 477.2L1977 477.6L1983.5 478L1990 478.3L1996.2 478.7L2001.7 479L2006.1 479.3L2009.1 479.5L2011 479.6" stroke="#0000ff" stroke-dasharray="21.90 11.10" stroke-dashoffset="-1.85"/>
<path d="M382.7 125.5L385.3 125.7L389.3 126L395.1 126.5L402.3 127.1L410.3 127.7L418.6 128.3L426.6 129L434 129.6L441.1 130.2L448 130.7L454.9 131.3L461.9 131.9L468.9 132.5L475.9 133.1L482.9 133.6L489.9 134.2L496.9 134.7L503.8 135.2L510.8 135.7L517.8 136.2L524.7 136.7L531.7 137.3L538.6 137.8L545.6 138.3L552.6 138.9L559.5 139.4L566.5 140L573.5 140.6L580.4 141.2L587.4 141.8L594.3 142.4L601.3 143L608.2 143.6L615.1 144.1L622 144.7L629 145.3L635.9 145.8L642.9 146.4L649.9 147L657.2 147.6L664.6 148.3L672.1 149L679.7 149.6L687.4 150.3L695.2 151.1L703.3 151.8L711.7 152.6L721.1 153.5L731.9 154.5L743.7 155.6L756.1 156.8L768.9 158L781.8 159.3L794.8 160.5L807.7 161.8L820.5 163.1L833.3 164.4L846.1 165.8L859 167.2L871.9 168.5L884.6 169.9L897 171.3L908.9 172.7L919.9 174L929.6 175.3L938.5 176.5L946.9 177.6L955.2 178.8L963.3 180L971.5 181L979.7 182L988 182.8L996.5 183.5L1005.2 184L1014 184.4L1022.7 184.7L1031.3 185.1L1039.5 185.4L1047.2 185.8L1054 186.2L1059.6 186.6L1064.4 187L1069 187.5L1073.4 187.9L1077.5 188.4L1081.4 188.9L1084.9 189.3L1087.8 189.7L1089.9 190.1L1091.5 190.3L1092.9 190.6L1094.2 190.8L1095.5 191.1L1096.9 191.4L1098.5 191.7L1100.8 192.1L1104 192.7L1108 193.3L1112.5 194L1117.3 194.8L1122.3 195.6L1127.3 196.4L1132.2 197.2L1137 198L1141.7 198.8L1146.4 199.7L1151 200.5L1155.7 201.4L1160.3 202.3L1164.9 203.2L1169.6 204.1L1174.2 205L1178.9 205.9L1183.5 206.9L1188.2 207.8L1192.8 208.8L1197.5 209.8L1202.1 210.8L1206.8 211.8L1211.4 212.8L1216 213.8L1220.7 214.9L1225.3 215.9L1230 217L1234.6 218.1L1239.3 219.3L1243.9 220.5L1248.6 221.7L1253.3 223.1L1258.1 224.5L1263 226L1267.9 227.5L1272.6 229L1277.1 230.5L1281.4 232L1285.1 233.4L1288.1 234.7L1290.7 235.8L1293.1 236.8L1295.3 237.9L1297.6 239L1299.8 240.2L1302 241.3L1304.2 242.5L1306.5 243.8L1308.9 245.1L1311.2 246.5L1313.5 247.9L1315.8 249.3L1318.1 250.7L1320.4 252.2L1322.7 253.6L1325 255.1L1327.4 256.6L1329.7 258.1L1332 259.6L1334.3 261.1L1336.7 262.7L1339 264.2L1341.3 265.7L1343.6 267.2L1346 268.7L1348.3 270.2L1350.6 271.7L1352.9 273.2L1355.3 274.7L1357.6 276.3L1359.9 277.8L1362.2 279.4L1364.6 281L1366.9 282.6L1369.2 284.2L1371.5 285.8L1373.8 287.4L1376.1 289.1L1378.4 290.8L1380.8 292.6L1383.1 294.3L1385.5 296.1L1387.8 297.9L1390.1 299.7L1392.4 301.6L1394.7 303.6L1397.1 305.7L1399.4 308L1401.9 310.5L1404.3 313.1L1406.7 315.7L1409 318.3L1411.2 320.9L1413.4 323.5L1415.3 325.8L1417 327.9L1418.6 329.8L1420.1 331.7L1421.5 333.5L1422.9 335.3L1424.2 337.2L1425.5 339L1426.6 340.9L1427.7 342.7L1428.8 344.5L1429.8 346.4L1430.7 348.2L1431.6 350.1L1432.4 352L1433.3 353.8L1434.1 355.7L1434.9 357.5L1435.6 359.4L1436.3 361.3L1437.1 363.1L1437.7 365L1438.4 366.9L1439.1 368.7L1439.7 370.6L1440.3 372.4L1440.9 374.2L1441.5 376L1442.1 377.8L1442.7 379.6L1443.2 381.5L1443.8 383.5L1444.3 385.6L1444.9 388L1445.4 390.6L1445.9 393.3L1446.4 396.1L1447 399L1447.5 401.9L1448 404.8L1448.7 407.8L1449.4 411L1450.1 414.2L1450.9 417.5L1451.8 420.9L1452.6 424.3L1453.4 427.9L1454.3 431.7L1455.2 436.1L1456.2 441.3L1457.3 447.3L1458.4 453.7L1459.5 460.3L1460.6 466.9L1461.6 473.4L1462.6 479.5L1463.4 485L1464 489.7L1464.6 493.8L1465 497.7L1465.5 501.5L1465.9 505.3L1466.4 509.2L1466.9 513.2L1467.5 517.6L1468.2 522.4L1469 527.6L1469.8 533L1470.7 538.4L1471.6 543.9L1472.5 549.3L1473.3 554.7L1474.2 559.8L1474.9 564.7L1475.6 569.4L1476.3 574.1L1477 578.7L1477.7 583.3L1478.4 587.9L1479.1 592.5L1479.8 597.1L1480.5 601.7L1481.2 606.4L1481.9 611L1482.5 615.7L1483.2 620.3L1483.9 624.9L1484.7 629.6L1485.4 634.2L1486.2 638.9L1487 643.5L1487.8 648.2L1488.7 652.8L1489.5 657.4L1490.3 662.1L1491.1 666.7L1491.9 671.4L1492.6 676L1493.3 680.7L1494 685.3L1494.6 690L1495.3 694.6L1496 699.2L1496.7 703.9L1497.4 708.5L1498.2 713.1L1498.9 717.8L1499.7 722.4L1500.5 727.1L1501.4 731.7L1502.2 736.3L1503 741L1503.9 745.6L1504.8 750.2L1505.6 754.9L1506.5 759.5L1507.4 764.2L1508.4 768.8L1509.3 773.4L1510.4 778.1L1511.4 782.7L1512.6 787.4L1513.8 792.2L1515.1 796.9L1516.5 801.6L1517.8 806.3L1519.1 810.9L1520.4 815.4L1521.5 819.6L1522.6 823.5L1523.5 827.2L1524.5 830.8L1525.4 834.3L1526.3 837.8L1527.1 841.2L1528 844.4L1528.7 847.4L1529.4 850.1L1530 852.6L1530.6 854.9L1531.2 857.2L1531.7 859.6L1532.3 862L1533 864.6L1533.7 867.6L1534.7 871.4L1535.7 875.7L1536.9 880.2L1538.1 884.9L1539.3 889.8L1540.5 894.6L1541.7 899.4L1542.9 904.2L1544.1 908.8L1545.2 913.5L1546.4 918.1L1547.6 922.8L1548.7 927.5L1549.9 932.1L1551 936.8L1552.2 941.4L1553.4 946L1554.5 950.7L1555.7 955.3L1556.8 960L1558 964.6L1559.2 969.2L1560.3 973.9L1561.5 978.5L1562.7 983.1L1563.8 987.8L1565 992.4L1566.2 997L1567.4 1001.7L1568.5 1006.3L1569.7 1011L1570.8 1015.6L1571.9 1020.2L1572.9 1024.9L1573.9 1029.5L1575 1034.1L1576 1038.8L1577 1043.4L1578 1048.1L1579.1 1052.7L1580.2 1057.4L1581.3 1062.2L1582.4 1067L1583.5 1071.8L1584.7 1076.5L1585.9 1081.1L1587.1 1085.5L1588.4 1089.6L1589.6 1093.2L1590.8 1096.6L1592 1099.9L1593.3 1103L1594.6 1106.1L1595.8 1109.1L1596.9 1112.1L1598 1114.8L1598.9 1117.3L1599.7 1119.6L1600.5 1121.9L1601.2 1124.1L1601.9 1126.3L1602.7 1128.4L1603.4 1130.4L1604.2 1132.2L1604.8 1133.9L1605.5 1135.5L1606.2 1136.9L1606.8 1138.4L1607.5 1139.8L1608.2 1141.1L1608.9 1142.3L1609.7 1143.4L1610.3 1144.4L1611 1145.2L1611.7 1146L1612.4 1146.8L1613.1 1147.5L1613.8 1148.1L1614.6 1148.6L1615.2 1149L1615.9 1149.3L1616.4 1149.5L1617 1149.6L1617.6 1149.7L1618.2 1149.7L1618.8 1149.7L1619.3 1149.6L1619.9 1149.5L1620.5 1149.3L1621.2 1149L1621.8 1148.7L1622.4 1148.3L1623 1147.9L1623.6 1147.4L1624.1 1146.8L1624.6 1146.2L1625.1 1145.5L1625.5 1144.6L1625.9 1143.6L1626.2 1142.6L1626.5 1141.5L1626.8 1140.4L1627.1 1139.2L1627.4 1137.8L1627.8 1136.1L1628.2 1134.2L1628.5 1132.2L1628.8 1130.1L1629.2 1127.9L1629.5 1125.7L1629.8 1123.5L1630.2 1121.3L1630.6 1119L1631.1 1116.7L1631.6 1114.4L1632.1 1112.1L1632.5 1109.7L1633 1107.4L1633.5 1105L1633.9 1102.7L1634.3 1100.4L1634.7 1098.1L1635 1095.8L1635.4 1093.5L1635.7 1091.2L1636 1088.9L1636.4 1086.5L1636.7 1083.9L1637.1 1081.2L1637.4 1078.3L1637.8 1075.3L1638.1 1072.3L1638.5 1069.2L1638.8 1066.2L1639.2 1063.1L1639.5 1060L1639.8 1056.9L1640.2 1053.7L1640.5 1050.6L1640.9 1047.4L1641.2 1044.2L1641.5 1041L1641.9 1037.6L1642.2 1033.9L1642.6 1029.8L1642.9 1025.3L1643.3 1020.7L1643.6 1016L1644 1011.3L1644.3 1006.5L1644.7 1001.8L1645 997.1L1645.4 992.4L1645.7 987.7L1646.1 982.9L1646.4 978.2L1646.8 973.5L1647.1 968.9L1647.5 964.4L1647.8 960.2L1648 956.4L1648.3 952.8L1648.5 949.4L1648.8 946L1649 942.6L1649.2 939.2L1649.5 935.6L1649.7 931.8L1650 927.6L1650.3 923.2L1650.6 918.5L1650.9 913.9L1651.2 909.1L1651.5 904.4L1651.8 899.7L1652.1 895L1652.4 890.3L1652.7 885.6L1652.9 880.8L1653.2 876.1L1653.5 871.4L1653.8 866.8L1654 862.3L1654.3 858.1L1654.5 854.2L1654.8 850.6L1655 847.1L1655.3 843.7L1655.5 840.3L1655.7 836.9L1655.9 833.4L1656.1 830L1656.2 826.5L1656.4 822.9L1656.5 819.4L1656.6 815.9L1656.7 812.3L1656.8 808.7L1657 805L1657.1 801.1L1657.3 796.9L1657.5 792.5L1657.7 788L1657.9 783.5L1658.2 778.8L1658.4 774.1L1658.7 769.1L1658.9 763.7L1659.2 757.7L1659.6 751.2L1659.9 744.4L1660.3 737.5L1660.6 730.4L1661 723.2L1661.4 715.8L1661.7 708L1662.1 699.5L1662.4 690.6L1662.8 681.3L1663.1 672L1663.5 662.5L1663.8 653L1664.2 643.6L1664.5 634.2L1664.8 624.6L1665.2 615L1665.5 605.3L1665.9 595.6L1666.2 586.1L1666.6 577L1666.9 568.5L1667.3 561.1L1667.6 555.1L1667.9 550L1668.1 545.3L1668.4 540.8L1668.7 536.4L1669 532L1669.2 527.5L1669.5 522.9L1669.7 518.1L1669.9 513.2L1670.1 508.3L1670.3 503.4L1670.5 498.5L1670.7 493.6L1671 488.8L1671.2 484.2L1671.5 479.8L1671.7 475.6L1672 471.4L1672.3 467.3L1672.6 463.2L1672.8 459.1L1673.1 455.1L1673.4 451L1673.7 447L1673.9 443.1L1674.2 439.1L1674.4 435.2L1674.7 431.2L1675 427.2L1675.2 423.1L1675.5 418.8L1675.8 414.3L1676.1 409.7L1676.4 405L1676.7 400.2L1677 395.3L1677.4 390.4L1677.7 385.1L1678 379.3L1678.4 372.7L1678.8 365.4L1679.2 357.7L1679.6 349.8L1680 342L1680.4 334.4L1680.9 327.2L1681.5 320.8L1682 315.3L1682.5 310.4L1683.1 305.8L1683.7 301.4L1684.3 297L1684.9 292.8L1685.5 288.8L1686.2 285L1686.8 281.6L1687.3 278.5L1687.9 275.5L1688.5 272.5L1689.1 269.7L1689.8 266.8L1690.5 264L1691.2 261.3L1691.9 258.6L1692.7 255.9L1693.4 253.3L1694.2 250.7L1695.1 248.1L1695.9 245.7L1696.9 243.4L1697.9 241.3L1698.8 239.4L1699.8 237.7L1700.7 236.1L1701.8 234.6L1702.8 233.2L1703.9 231.8L1705.1 230.6L1706.3 229.5L1707.4 228.6L1708.5 227.8L1709.7 227.1L1710.9 226.4L1712.2 225.9L1713.5 225.4L1714.9 224.9L1716.6 224.4L1718.5 223.9L1720.7 223.5L1723.1 223.1L1725.6 222.8L1728.2 222.6L1730.9 222.4L1733.7 222.2L1736.8 222L1740.3 221.8L1744.3 221.6L1748.4 221.4L1752.6 221.3L1757 221.2L1761.3 221.1L1765.6 221.1L1769.8 221L1774 220.9L1778 220.9L1782 220.9L1786 220.8L1790.1 220.9L1794.3 220.9L1798.9 220.9L1804.4 221L1811.1 221.2L1818.8 221.5L1827 221.7L1835.6 222.1L1844.3 222.5L1853.1 222.9L1861.8 223.3L1870.3 223.7L1878.8 224.2L1887.1 224.6L1895.5 225.1L1903.9 225.7L1912.2 226.2L1920.6 226.7L1928.9 227.2L1937.3 227.7L1945.8 228.2L1954.3 228.6L1962.8 229.1L1971.3 229.5L1979.7 229.9L1988.1 230.3L1996.2 230.7L2004.2 231.1L2012.1 231.5L2020.3 231.8L2028.6 232.2L2036.6 232.6L2043.8 232.9L2049.5 233.1L2053.4 233.3L2056 233.4" stroke="#008000"/>
<path d="M382.7 84.6L385.3 84.8L389.3 85.2L395.1 85.7L402.3 86.3L410.3 87L418.6 87.7L426.6 88.4L434 89.1L441.1 89.7L448 90.3L454.9 90.8L461.9 91.4L468.9 92L475.9 92.6L482.9 93.2L489.9 93.8L496.9 94.5L503.8 95.1L510.8 95.8L517.8 96.5L524.7 97.2L531.7 97.9L538.6 98.7L545.6 99.4L552.6 100.1L559.5 100.9L566.5 101.6L573.5 102.4L580.4 103.2L587.4 103.9L594.3 104.7L601.3 105.5L608.3 106.3L615.2 107.1L622.2 107.9L629.2 108.7L636.1 109.5L643.1 110.3L650.1 111.1L657.2 112L664.5 113L672.3 114.1L680.1 115.2L687.9 116.3L695.3 117.3L701.9 118.3L707.5 119.1L711.4 119.6L713.6 119.9L714.8 120.1L715.6 120.2L716.4 120.3L717.1 120.4L718 120.5L719.1 120.7L721.2 121L724.9 121.6L730.1 122.5L736.3 123.7L743.1 124.9L750.1 126.2L757.1 127.5L763.7 128.7L769.6 129.8L774.7 130.8L779.3 131.7L783.7 132.6L788 133.4L792.2 134.3L796.2 135L799.9 135.7L803.2 136.2L805.8 136.6L808 136.9L810 137.1L811.9 137.4L813.8 137.5L815.9 137.7L818.3 137.9L821.5 138L825.8 138.2L831.1 138.3L837 138.3L843.3 138.3L849.9 138.3L856.6 138.2L863.4 138.2L870.4 138.2L877.9 138.2L885.7 138.1L893.8 138L902 138L910.2 137.9L918.4 138L926.3 138.1L934 138.4L941.3 138.7L948.3 139.1L955.3 139.6L962.1 140.2L968.9 140.8L975.4 141.5L981.6 142.1L987.3 142.6L992.4 143.1L997 143.6L1001.4 144.1L1005.6 144.5L1009.8 145L1013.8 145.6L1017.6 146.1L1021 146.7L1024.1 147.2L1026.9 147.7L1029.5 148.3L1032 148.8L1034.5 149.4L1036.9 150L1039.2 150.7L1041.3 151.4L1043.3 152L1045.1 152.7L1046.8 153.4L1048.5 154.1L1050.1 154.8L1051.7 155.6L1053.3 156.5L1054.9 157.5L1056.6 158.7L1058.3 160.1L1059.9 161.5L1061.6 163.1L1063.2 164.6L1064.9 166L1066.6 167.3L1068.2 168.4L1069.9 169.2L1071.5 169.9L1073.1 170.5L1074.8 171L1076.5 171.4L1078.2 171.8L1079.9 172.1L1081.8 172.5L1083.8 172.9L1085.9 173.2L1088.1 173.4L1090.3 173.7L1092.6 173.8L1095 174L1097.5 174.1L1100.6 174.2L1104.2 174.2L1108.5 174.2L1113 174L1117.8 173.8L1122.6 173.6L1127.5 173.4L1132.3 173.1L1137.1 172.9L1141.7 172.7L1146.4 172.5L1151 172.2L1155.6 172L1160.3 171.7L1164.9 171.5L1169.6 171.2L1174.2 171L1178.9 170.8L1183.6 170.5L1188.4 170.3L1193.1 170L1197.8 169.8L1202.4 169.6L1206.9 169.4L1211.1 169.2L1215 169.1L1218.6 168.9L1222.1 168.8L1225.5 168.7L1228.9 168.6L1232.4 168.6L1235.8 168.6L1239.2 168.6L1242.7 168.7L1246.2 168.9L1249.7 169L1253.2 169.2L1256.7 169.5L1260.1 169.8L1263.6 170.1L1267.1 170.5L1270.6 171L1274.1 171.5L1277.5 172L1281 172.6L1284.5 173.2L1288 173.9L1291.4 174.6L1294.9 175.3L1298.5 176.1L1302.2 176.9L1305.9 177.8L1309.6 178.7L1313.1 179.6L1316.5 180.5L1319.6 181.3L1322.2 182.1L1324.2 182.6L1325.8 183.1L1327.2 183.5L1328.6 183.9L1329.9 184.4L1331.2 184.8L1332.6 185.4L1334 186L1335.5 186.7L1337.1 187.5L1338.8 188.4L1340.4 189.3L1342 190.2L1343.7 191.2L1345.3 192.3L1346.9 193.3L1348.5 194.5L1350.1 195.6L1351.7 196.9L1353.3 198.1L1354.9 199.4L1356.5 200.8L1358.2 202.1L1360.1 203.6L1362.1 205.3L1364.3 207L1366.6 208.9L1369 210.7L1371.3 212.6L1373.7 214.6L1376.1 216.5L1378.4 218.4L1380.7 220.4L1383.1 222.3L1385.4 224.3L1387.7 226.3L1390 228.2L1392.4 230.2L1394.7 232.2L1397 234.2L1399.3 236.2L1401.7 238.1L1404.1 240.1L1406.4 242L1408.7 244L1411 246L1413.3 247.9L1415.4 249.9L1417.5 251.7L1419.4 253.6L1421.4 255.4L1423.3 257.3L1425.1 259.1L1426.9 261L1428.7 262.9L1430.3 264.8L1431.9 266.6L1433.4 268.4L1434.8 270.2L1436.2 272L1437.5 273.9L1438.8 275.7L1440.2 277.7L1441.5 279.7L1443 281.8L1444.4 284.1L1445.8 286.4L1447.3 288.7L1448.7 291.1L1450 293.5L1451.4 295.8L1452.7 298.2L1453.9 300.5L1455.1 302.8L1456.3 305.1L1457.5 307.4L1458.6 309.7L1459.8 312L1460.9 314.4L1462 316.9L1463.2 319.5L1464.3 322.2L1465.5 325L1466.6 327.8L1467.8 330.6L1468.9 333.4L1470.1 336.2L1471.2 339L1472.4 341.8L1473.5 344.5L1474.7 347.3L1475.9 350.1L1477 352.9L1478.2 355.7L1479.4 358.5L1480.5 361.4L1481.7 364.3L1482.9 367.3L1484.1 370.3L1485.3 373.3L1486.4 376.4L1487.6 379.4L1488.7 382.4L1489.8 385.4L1490.8 388.3L1491.8 391.1L1492.7 394L1493.7 396.9L1494.6 399.7L1495.5 402.4L1496.3 405.1L1497.1 407.4L1497.8 409.5L1498.4 411.3L1499 412.9L1499.5 414.5L1500.1 416.2L1500.7 418L1501.4 420.1L1502.3 423L1503.5 427L1505 432.1L1506.7 437.7L1508.4 443.8L1510.2 450.1L1512 456.4L1513.7 462.7L1515.4 468.9L1517 474.9L1518.6 481L1520.2 487.1L1521.7 493.2L1523.3 499.2L1524.8 505.3L1526.2 511.2L1527.6 517L1529 522.6L1530.2 528.1L1531.4 533.5L1532.6 538.9L1533.8 544.3L1535 549.6L1536.2 554.8L1537.4 559.8L1538.6 564.7L1539.7 569.4L1540.9 574.1L1542.1 578.7L1543.3 583.3L1544.4 587.9L1545.5 592.5L1546.6 597.1L1547.6 601.7L1548.6 606.4L1549.5 611L1550.5 615.6L1551.4 620.3L1552.3 624.9L1553.2 629.6L1554.1 634.2L1555 638.8L1556 643.5L1556.9 648.1L1557.9 652.8L1558.8 657.4L1559.7 662.1L1560.6 666.7L1561.5 671.4L1562.4 676L1563.2 680.7L1564 685.3L1564.9 689.9L1565.7 694.6L1566.5 699.2L1567.2 703.9L1568 708.5L1568.7 713.1L1569.5 717.8L1570.2 722.4L1570.9 727L1571.6 731.7L1572.3 736.3L1572.9 741L1573.6 745.6L1574.2 750.2L1574.8 754.9L1575.4 759.5L1575.9 764.1L1576.5 768.8L1577 773.4L1577.6 778.1L1578.2 782.7L1578.8 787.4L1579.4 792.1L1580.1 796.9L1580.7 801.6L1581.4 806.3L1582 810.9L1582.7 815.4L1583.3 819.6L1583.8 823.4L1584.4 827L1584.9 830.4L1585.5 833.8L1586 837.2L1586.6 840.6L1587.2 844.2L1587.7 848L1588.4 852.3L1589 857L1589.7 861.8L1590.4 866.7L1591.1 871.6L1591.7 876.4L1592.4 881.1L1593 885.4L1593.5 889.3L1594 892.9L1594.5 896.4L1594.9 899.9L1595.4 903.3L1595.9 906.7L1596.3 910.1L1596.8 913.5L1597.3 917L1597.7 920.4L1598.2 923.9L1598.6 927.3L1599.1 930.8L1599.5 934.3L1600 937.8L1600.5 941.6L1601.1 945.5L1601.6 949.6L1602.2 953.8L1602.8 958L1603.3 962.2L1603.9 966.4L1604.5 970.6L1605.1 974.7L1605.7 978.8L1606.2 982.7L1606.8 986.6L1607.3 990.6L1607.9 994.5L1608.5 998.4L1609.1 1002.4L1609.7 1006.4L1610.4 1010.5L1611 1014.6L1611.7 1018.8L1612.4 1023L1613.2 1027.2L1613.9 1031.4L1614.6 1035.5L1615.3 1039.7L1616 1043.8L1616.7 1047.9L1617.4 1052L1618.1 1056.1L1618.8 1060.1L1619.5 1063.9L1620.2 1067.6L1620.8 1070.9L1621.4 1073.8L1622 1076.5L1622.6 1079L1623.1 1081.4L1623.7 1083.7L1624.3 1085.9L1624.9 1087.9L1625.4 1089.6L1625.9 1091L1626.3 1092.3L1626.8 1093.4L1627.2 1094.4L1627.6 1095.4L1628.1 1096.2L1628.6 1097L1629.1 1097.5L1629.6 1097.9L1630.1 1098.1L1630.5 1098.3L1631 1098.4L1631.5 1098.5L1632 1098.5L1632.5 1098.5L1632.9 1098.3L1633.4 1098.1L1634 1097.7L1634.5 1097.2L1634.9 1096.6L1635.4 1095.9L1635.9 1095.2L1636.3 1094.4L1636.7 1093.4L1637.2 1092.2L1637.6 1090.8L1638 1089.3L1638.3 1087.7L1638.6 1085.9L1638.9 1084.2L1639.2 1082.4L1639.5 1080.5L1639.9 1078.4L1640.2 1076.3L1640.6 1074L1640.9 1071.7L1641.3 1069.4L1641.6 1067L1641.9 1064.5L1642.2 1061.7L1642.5 1058.7L1642.9 1055.4L1643.2 1052L1643.5 1048.4L1643.7 1044.9L1644 1041.3L1644.3 1037.7L1644.6 1034.2L1644.9 1030.7L1645.2 1027.2L1645.4 1023.7L1645.7 1020.2L1646 1016.8L1646.3 1013.3L1646.6 1009.8L1646.9 1006.3L1647.2 1002.9L1647.6 999.4L1648 996L1648.3 992.6L1648.7 989.2L1649.1 985.7L1649.4 982.1L1649.7 978.2L1650 974L1650.2 969.6L1650.5 964.9L1650.7 960.3L1650.9 955.5L1651.1 950.8L1651.3 946.1L1651.5 941.4L1651.7 936.8L1651.9 932.1L1652.2 927.4L1652.4 922.8L1652.6 918.1L1652.9 913.5L1653.1 908.8L1653.4 904.2L1653.7 899.6L1654 894.9L1654.4 890.3L1654.7 885.6L1655.1 881L1655.4 876.4L1655.8 871.7L1656.1 867.1L1656.4 862.4L1656.7 857.7L1657 853L1657.3 848.3L1657.6 843.6L1657.9 839L1658.1 834.5L1658.4 830.3L1658.6 826.4L1658.8 822.7L1659 819.2L1659.2 815.7L1659.4 812.1L1659.5 808.6L1659.7 804.9L1659.9 801.1L1660.1 796.9L1660.3 792.5L1660.5 788L1660.8 783.5L1661 778.8L1661.2 774.1L1661.5 769.1L1661.7 763.7L1662 757.6L1662.4 751L1662.7 744.1L1663.1 737L1663.5 729.9L1663.8 722.7L1664.2 715.6L1664.5 708.5L1664.8 701.5L1665 694.6L1665.3 687.6L1665.5 680.7L1665.7 673.7L1666 666.7L1666.2 659.8L1666.4 652.8L1666.6 645.7L1666.8 638.6L1667.1 631.4L1667.3 624.3L1667.5 617.2L1667.7 610.3L1668 603.7L1668.2 597.7L1668.4 592.3L1668.7 587.4L1668.9 582.7L1669.2 578.1L1669.4 573.6L1669.7 569.1L1669.9 564.6L1670.1 560L1670.3 555.4L1670.4 550.8L1670.6 546.2L1670.7 541.6L1670.9 537L1671 532.4L1671.1 527.7L1671.3 523L1671.5 518.2L1671.6 513.3L1671.8 508.4L1672 503.4L1672.2 498.5L1672.4 493.6L1672.6 488.8L1672.8 484.2L1673 479.9L1673.3 475.7L1673.5 471.6L1673.8 467.6L1674 463.6L1674.3 459.5L1674.5 455.5L1674.8 451.5L1675 447.5L1675.3 443.5L1675.5 439.4L1675.7 435.4L1676 431.4L1676.2 427.3L1676.5 423.1L1676.7 418.9L1677 414.4L1677.3 409.9L1677.6 405.3L1677.9 400.7L1678.2 395.9L1678.5 390.9L1678.8 385.3L1679.1 378.2L1679.5 369L1679.9 357.9L1680.3 345.7L1680.7 333L1681.2 320.2L1681.7 307.8L1682.2 296.2L1682.8 286.2L1683.3 278L1683.9 271L1684.5 264.5L1685.1 258.3L1685.8 252.2L1686.5 246.2L1687.1 240.3L1687.8 234.6L1688.4 229.2L1689 223.9L1689.6 218.8L1690.2 213.7L1690.8 208.7L1691.4 203.8L1692.2 199L1692.9 194.4L1693.6 190.2L1694.4 186.1L1695.2 182.1L1696 178.2L1696.8 174.5L1697.7 170.8L1698.6 167.5L1699.5 164.5L1700.3 162L1701.1 159.8L1701.8 157.8L1702.6 155.9L1703.4 154.1L1704.3 152.3L1705.3 150.6L1706.3 149.1L1707.4 147.7L1708.5 146.3L1709.7 145.1L1710.9 143.9L1712.2 142.8L1713.5 141.8L1714.9 140.9L1716.3 140.1L1717.8 139.4L1719.3 138.8L1720.8 138.3L1722.4 137.9L1724 137.5L1725.8 137.2L1727.8 136.9L1730.5 136.5L1734.1 136.1L1738.5 135.7L1743.5 135.3L1748.7 135L1754.1 134.7L1759.5 134.4L1764.7 134.2L1769.6 134L1774 133.8L1778.2 133.7L1782.2 133.6L1786.2 133.5L1790.2 133.4L1794.4 133.4L1799 133.3L1804.4 133.3L1811.1 133.3L1818.8 133.3L1827 133.4L1835.6 133.5L1844.3 133.6L1853.1 133.7L1861.8 133.8L1870.3 134L1878.7 134.2L1887 134.4L1895.4 134.7L1903.7 135L1912 135.2L1920.4 135.5L1928.9 135.8L1938 136L1948.1 136.3L1959.3 136.5L1971 136.8L1982.6 137L1993 137.2L2001.4 137.4L2007.2 137.5L2011 137.6" stroke="#ff0000"/>
<path d="M376.2 139.5L379.2 139.8L383.7 140.1L390.3 140.7L398.5 141.4L407.5 142.2L416.8 143L425.7 143.8L433.8 144.5L441.1 145.1L448.2 145.7L455.2 146.4L462.1 147L469.1 147.6L476 148.3L482.9 148.9L489.9 149.5L496.9 150.1L503.8 150.7L510.8 151.3L517.7 152L524.7 152.6L531.7 153.1L538.6 153.7L545.6 154.3L552.6 154.8L559.5 155.4L566.5 155.9L573.4 156.4L580.4 156.9L587.4 157.4L594.3 157.9L601.3 158.4L608.2 158.9L615.1 159.5L622 160.1L629 160.6L635.9 161.2L642.9 161.8L650 162.4L657.3 163L665.2 163.7L673.4 164.5L681.9 165.2L690.3 166L698.5 166.7L706.3 167.5L713.2 168.1L718.7 168.7L722.6 169.1L725.3 169.4L727.6 169.6L729.8 169.9L732 170.2L734.4 170.4L737.4 170.7L742.1 171.2L749.4 171.8L759.1 172.5L770.3 173.3L782.4 174.2L795.1 175.1L807.9 176L820.4 176.9L832.6 177.9L844.4 178.9L856 180L867.6 181.1L879.2 182.2L890.8 183.4L902.4 184.5L914 185.7L925.7 186.8L937.5 188L949.4 189.3L961.4 190.5L973.4 191.8L985.2 193L996.6 194.2L1007.5 195.2L1017.3 196L1025.9 196.5L1033.7 197L1041.1 197.3L1048.3 197.6L1055.2 197.8L1061.8 198.1L1067.9 198.4L1073.2 198.8L1077.5 199.1L1081.1 199.4L1084.3 199.8L1087.4 200.1L1090.4 200.5L1093.5 200.9L1096.8 201.3L1100.4 201.8L1104.5 202.3L1108.9 202.9L1113.5 203.5L1118.2 204.1L1122.9 204.8L1127.7 205.5L1132.4 206.2L1137.1 206.9L1141.7 207.6L1146.4 208.3L1151 209L1155.7 209.7L1160.3 210.5L1164.9 211.2L1169.6 212L1174.2 212.8L1178.9 213.7L1183.5 214.6L1188.2 215.5L1192.8 216.4L1197.5 217.3L1202.1 218.3L1206.8 219.2L1211.4 220.2L1216 221.1L1220.7 222.1L1225.3 223L1230 224L1234.6 225L1239.2 226L1243.9 227L1248.5 228L1253.3 229.1L1258.1 230.2L1263 231.4L1267.8 232.6L1272.6 233.7L1277.1 234.9L1281.4 236.1L1285.1 237.2L1288.1 238.1L1290.7 239L1293 239.8L1295.3 240.6L1297.5 241.5L1299.7 242.3L1302 243.2L1304.2 244L1306.5 244.8L1308.8 245.7L1311.2 246.5L1313.5 247.4L1315.8 248.2L1318.1 249.1L1320.4 250L1322.7 250.9L1325 251.9L1327.4 252.9L1329.7 253.9L1332 254.9L1334.3 256L1336.7 257L1339 258.1L1341.3 259.2L1343.6 260.3L1346 261.4L1348.3 262.6L1350.6 263.7L1353 264.9L1355.3 266.1L1357.6 267.3L1359.9 268.5L1362.2 269.8L1364.6 271.1L1366.9 272.4L1369.2 273.7L1371.5 275.1L1373.8 276.5L1376.1 277.9L1378.4 279.3L1380.7 280.8L1383.1 282.2L1385.4 283.7L1387.8 285.3L1390.1 286.8L1392.4 288.4L1394.7 290L1397 291.8L1399.4 293.6L1401.7 295.5L1404.1 297.4L1406.5 299.4L1408.8 301.4L1411.1 303.5L1413.3 305.5L1415.4 307.4L1417.5 309.3L1419.4 311.2L1421.4 313L1423.3 314.8L1425.1 316.7L1426.9 318.5L1428.7 320.4L1430.3 322.3L1431.9 324.1L1433.4 325.9L1434.9 327.8L1436.3 329.6L1437.7 331.5L1439 333.4L1440.3 335.3L1441.4 337.2L1442.5 339L1443.6 340.8L1444.5 342.7L1445.5 344.5L1446.4 346.4L1447.2 348.3L1448.1 350.1L1448.9 352L1449.7 353.8L1450.4 355.7L1451.1 357.5L1451.8 359.3L1452.5 361.2L1453.2 363.1L1453.8 365L1454.5 367L1455.2 369.1L1455.9 371.3L1456.6 373.6L1457.3 375.9L1458 378.3L1458.7 380.6L1459.4 383L1460.1 385.5L1460.9 388.1L1461.7 390.8L1462.5 393.5L1463.3 396.2L1464.1 399L1464.9 401.8L1465.8 404.8L1466.7 407.9L1467.7 411.4L1468.7 415L1469.8 418.7L1470.9 422.5L1472 426.4L1473 430.4L1474.1 434.6L1475.3 439.2L1476.5 444.4L1477.8 450.1L1479.1 456L1480.4 462.1L1481.7 468.2L1482.9 474.2L1484.1 479.9L1485.1 485.1L1486 489.6L1486.7 493.8L1487.4 497.7L1488.1 501.5L1488.7 505.3L1489.4 509.2L1490.1 513.2L1491 517.6L1492 522.4L1493 527.6L1494.2 533L1495.3 538.4L1496.5 543.9L1497.8 549.3L1499 554.7L1500.2 559.8L1501.3 564.7L1502.5 569.4L1503.6 574.1L1504.8 578.7L1506 583.3L1507.2 587.9L1508.3 592.5L1509.5 597.1L1510.7 601.7L1511.8 606.4L1513 611L1514.2 615.6L1515.3 620.3L1516.5 624.9L1517.6 629.6L1518.8 634.2L1520 638.8L1521.1 643.5L1522.3 648.1L1523.5 652.8L1524.6 657.4L1525.8 662.1L1527 666.7L1528.1 671.4L1529.2 676L1530.3 680.7L1531.4 685.3L1532.5 689.9L1533.6 694.6L1534.7 699.2L1535.8 703.9L1536.9 708.5L1538 713.1L1539.1 717.8L1540.2 722.4L1541.3 727.1L1542.4 731.7L1543.5 736.3L1544.6 741L1545.7 745.6L1546.9 750.2L1548 754.9L1549.2 759.5L1550.4 764.1L1551.5 768.8L1552.7 773.4L1553.8 778.1L1555 782.7L1556.1 787.3L1557.2 792L1558.3 796.6L1559.3 801.3L1560.4 805.9L1561.5 810.6L1562.7 815.2L1563.8 819.9L1565.1 824.7L1566.4 829.5L1567.7 834.3L1569.1 839.2L1570.4 844L1571.7 848.7L1573 853.2L1574.1 857.5L1575.1 861.4L1576 865L1576.9 868.5L1577.7 872L1578.6 875.4L1579.4 878.8L1580.2 882.3L1581 885.7L1581.8 889.2L1582.6 892.7L1583.4 896.1L1584.2 899.6L1585 903.1L1585.8 906.6L1586.7 910L1587.5 913.5L1588.4 917L1589.3 920.6L1590.2 924.1L1591.1 927.7L1592 931.2L1593 934.6L1593.9 938L1594.9 941.2L1595.8 944.2L1596.7 947.1L1597.6 949.9L1598.6 952.6L1599.5 955.3L1600.4 958.1L1601.4 960.8L1602.3 963.7L1603.2 966.6L1604.2 969.7L1605.1 972.8L1606.1 975.9L1607 979L1607.9 982L1608.8 984.9L1609.6 987.6L1610.4 990.1L1611.1 992.4L1611.7 994.6L1612.4 996.8L1613 999L1613.7 1000.9L1614.5 1002.7L1615.2 1004.3L1615.9 1005.5L1616.6 1006.5L1617.3 1007.4L1618 1008.3L1618.8 1009.1L1619.5 1009.8L1620.2 1010.4L1620.8 1010.9L1621.4 1011.3L1621.9 1011.5L1622.4 1011.7L1622.8 1011.9L1623.3 1012L1623.8 1012.2L1624.2 1012.5L1624.6 1012.9L1625 1013.5L1625.4 1014.3L1625.7 1015.2L1626 1016.1L1626.3 1017.1L1626.6 1017.9L1627 1018.6L1627.4 1019.2L1627.8 1019.6L1628.2 1019.8L1628.7 1020L1629.2 1020.1L1629.6 1020.2L1630.1 1020.3L1630.6 1020.3L1631.1 1020.3L1631.7 1020.2L1632.3 1020.1L1632.9 1019.9L1633.4 1019.7L1634 1019.4L1634.6 1019.1L1635.2 1018.8L1635.7 1018.3L1636.3 1017.9L1636.8 1017.3L1637.3 1016.6L1637.8 1016L1638.3 1015.2L1638.7 1014.4L1639.1 1013.6L1639.5 1012.7L1639.8 1011.6L1640.1 1010.5L1640.4 1009.2L1640.5 1007.9L1640.7 1006.6L1640.9 1005.3L1641.1 1003.9L1641.3 1002.6L1641.6 1001.3L1642 999.9L1642.3 998.6L1642.7 997.2L1643 995.8L1643.4 994.4L1643.8 993L1644.1 991.3L1644.5 989.5L1644.8 987.5L1645.2 985.4L1645.5 983.3L1645.9 981.1L1646.2 979L1646.6 976.9L1646.9 974.9L1647.2 972.9L1647.6 971.1L1648 969.2L1648.3 967.4L1648.7 965.6L1649 963.7L1649.4 961.8L1649.7 959.8L1650.1 957.6L1650.4 955.4L1650.7 953.1L1651.1 950.8L1651.4 948.4L1651.7 946.1L1652.1 943.7L1652.4 941.4L1652.8 939.1L1653.1 936.8L1653.5 934.6L1653.8 932.3L1654.2 930L1654.5 927.7L1654.9 925.2L1655.2 922.5L1655.6 919.5L1655.9 916.2L1656.3 912.8L1656.6 909.2L1657 905.7L1657.3 902.1L1657.7 898.5L1658 895L1658.4 891.5L1658.7 888L1659.1 884.5L1659.4 881.1L1659.7 877.6L1660.1 874.1L1660.4 870.6L1660.8 867.1L1661.1 863.6L1661.5 860L1661.8 856.5L1662.2 852.9L1662.5 849.4L1662.9 845.9L1663.2 842.6L1663.6 839.6L1663.9 836.9L1664.3 834.4L1664.7 832.1L1665 829.8L1665.4 827.4L1665.7 825L1666.1 822.4L1666.4 819.4L1666.8 815.6L1667.2 811.3L1667.5 806.8L1667.9 802L1668.2 797.2L1668.5 792.3L1668.8 787.5L1669.1 782.7L1669.4 778.1L1669.6 773.4L1669.9 768.8L1670.1 764.1L1670.3 759.5L1670.5 754.9L1670.8 750.2L1671 745.6L1671.2 741L1671.5 736.3L1671.7 731.7L1671.9 727L1672.1 722.4L1672.4 717.8L1672.6 713.1L1672.9 708.5L1673.2 703.9L1673.5 699.2L1673.9 694.6L1674.3 690L1674.6 685.3L1675 680.7L1675.3 676L1675.6 671.4L1675.9 666.8L1676.1 662.1L1676.3 657.5L1676.5 652.8L1676.8 648.1L1677 643.5L1677.2 638.8L1677.5 634.2L1677.8 629.6L1678.2 624.9L1678.5 620.3L1678.9 615.6L1679.3 611L1679.6 606.4L1680 601.7L1680.3 597.1L1680.6 592.4L1680.9 587.6L1681.2 582.8L1681.4 578.1L1681.7 573.4L1681.9 568.8L1682.2 564.4L1682.5 560.4L1682.7 556.9L1683 553.7L1683.3 550.7L1683.5 547.8L1683.8 544.9L1684 542L1684.3 539.1L1684.5 536L1684.7 532.9L1684.8 529.7L1685 526.4L1685.1 523.2L1685.3 519.9L1685.4 516.6L1685.6 513.4L1685.8 510.1L1686.1 506.9L1686.4 503.6L1686.7 500.4L1687.1 497.2L1687.4 494L1687.8 490.7L1688.1 487.3L1688.4 483.8L1688.7 480L1688.9 476.1L1689.2 472.1L1689.4 468L1689.7 463.8L1689.9 459.7L1690.1 455.6L1690.4 451.5L1690.7 447.5L1691 443.4L1691.3 439.4L1691.7 435.4L1692 431.4L1692.3 427.3L1692.7 423.1L1693 418.8L1693.4 414.3L1693.7 409.6L1694.1 404.8L1694.4 400L1694.8 395.1L1695.2 390.2L1695.6 385.1L1696 379.6L1696.6 373.7L1697.1 367.4L1697.7 360.9L1698.4 354.3L1699 347.6L1699.7 341.1L1700.4 334.6L1701.2 328.4L1701.9 322.5L1702.7 316.8L1703.4 311.1L1704.2 305.6L1705 300.1L1705.9 294.8L1706.9 289.8L1707.8 285.1L1708.8 281.1L1709.7 277.3L1710.7 273.8L1711.7 270.4L1712.7 267.1L1713.9 263.9L1715 260.9L1716.2 258.2L1717.4 255.8L1718.5 253.6L1719.7 251.5L1720.9 249.6L1722.2 247.7L1723.5 246L1724.9 244.4L1726.4 242.9L1727.9 241.6L1729.4 240.4L1731.1 239.4L1732.7 238.4L1734.4 237.6L1736.2 236.8L1738 236.1L1739.8 235.4L1741.7 234.9L1743.7 234.5L1745.7 234.1L1747.7 233.9L1749.8 233.7L1752 233.5L1754.3 233.3L1756.9 233.1L1759.9 232.8L1763.3 232.6L1766.9 232.4L1770.6 232.2L1774.4 232L1778.4 231.9L1782.5 231.8L1787.2 231.7L1792.4 231.7L1798.2 231.6L1804.3 231.7L1810.6 231.7L1817 231.8L1823.6 232L1830.3 232.2L1837.4 232.4L1845 232.8L1853.1 233.2L1861.4 233.7L1869.8 234.2L1878.4 234.7L1886.9 235.3L1895.4 235.9L1903.9 236.4L1912.5 236.9L1921.2 237.5L1930 238L1938.8 238.5L1947.3 239.1L1955.5 239.6L1963.2 240L1970 240.4L1975.8 240.8L1981.2 241.1L1986.4 241.5L1991.4 241.8L1995.7 242L1999.1 242.3L2001.5 242.4L2003 242.5" stroke="#0000ff"/>
</g>
<g fill="none" stroke-width="6.2" stroke-linejoin="round" stroke-linecap="round" clip-path="url(#cin)" shape-rendering="crispEdges">
<path d="M381 536L381.5 540.7L382.3 547.4L383.3 556.3L384.4 566L385.6 575.2L386.7 583.7L387.8 591.9L388.9 600.1L390.1 608.3L391.2 616.7L392.3 625.4L393.4 634.3L394.6 643.3L395.7 652.2L396.8 660.9L397.9 669.3L399 677.6L400.1 685.8L401.2 693.8L402.3 701.7L403.3 709.4L404.2 716.9L405.1 724.3L406.1 731.7L407 738.8L407.9 745.7L408.9 752.4L409.8 759.1L410.7 765.8L411.6 772.7L412.5 779.9L413.3 787.5L414.2 794.8L414.9 801.3L415.5 806.3L416 809.5L416.3 811.5L416.6 813.3L416.9 815.3L417.4 818.6L418.1 823.7L418.9 830.6L419.9 838.3L420.8 846.2L421.8 854L422.7 861.6L423.6 869.1L424.6 876.5L425.5 884L426.5 891.4L427.5 898.9L428.6 906.5L429.7 914L430.8 921.2L432 928L433.1 934.1L434.3 939.8L435.4 945.4L436.5 950.8L437.5 956.3L438.4 961.9L439.1 967.5L439.8 973.2L440.5 978.7L441.4 984.1L442.3 989.2L443.3 994.3L444.5 999.2L445.6 1003.8L446.8 1007.8L447.9 1011.1L449 1013.9L450.1 1016.5L451.3 1018.9L452.3 1021.1L453.3 1023.2L454.2 1025.1L455.1 1026.8L456.1 1028.3L457 1029.5L458 1030.3L458.9 1030.8L459.8 1031.2L460.8 1031.4L461.7 1031.4L462.7 1031.2L463.7 1030.8L464.6 1030.2L465.5 1029.5L466.4 1028.6L467.3 1027.5L468.1 1026.2L468.8 1024.7L469.5 1023L470.1 1020.8L470.6 1017.9L471.1 1014.4L471.4 1010.5L471.6 1006.6L471.9 1002.8L472.3 999.1L472.7 995.5L473 991.8L473.4 988L473.8 983.7L474.3 978.8L474.8 973.4L475.2 967.7L475.7 962L476.2 956.3L476.6 950.7L477.1 945.2L477.5 939.6L477.9 934.1L478.4 928.5L479 922.9L479.5 917.3L480.1 911.8L480.7 906.2L481.2 900.6L481.6 895L482 889.5L482.4 883.9L482.7 878.4L483.1 872.8L483.5 867.2L483.8 861.6L484.2 856.1L484.5 850.5L484.9 844.9L485.3 839.4L485.7 834L486.1 828.4L486.4 822.8L486.8 816.7L487.2 810L487.6 803L487.9 795.6L488.3 787.7L488.6 778.8L489 768.5L489.4 757L489.7 744.9L490.1 732.4L490.5 719.6L491 706.2L491.5 692.4L492 678.4L492.5 664.2L493 649.6L493.6 634.5L494.2 619.1L494.8 603.8L495.4 589.3L496 576.4L496.5 565.2L496.9 555.3L497.4 546.7L497.7 540.3L497.9 536.0" stroke="#008000"/>
<path d="M348.5 533.1L348.7 540.9M351.7 569.5L352 571.5L352.7 576.7L353.5 582.8L354.3 588.8L355 594.2L355.6 599.9L356.3 606.6L357 613.3L357.6 619.2L357.8 621.8M362.2 650.2L362.5 652.8L363.1 658.7L363.8 665.4L364.5 672.1L365.2 677.8L365.9 683.2L366.7 689.2L367.5 695.3L368.2 700.5L368.5 702.5M372.1 731L372.4 733.4L373.1 739L373.9 745.5L374.7 752L375.4 757.6L376.1 763.2L376.9 769.6L377.7 776L378.4 781.6L378.7 783.9M384.3 814.7L384.6 816.8L385.5 822L386.5 828.1L387.5 834.1L388.4 839.4L389.3 844.7L390.4 850.7L391.5 856.8L392.5 862.1L392.8 864.2M400.4 895.3L400.7 896.4L401.9 900.5L403.3 905.2L404.8 909.8L406 913.6L406.9 916.3L407.8 918.9L408.6 921.4L409.5 923.8L410.5 926.2L411.6 928.5L412.9 930.9L414.6 933.6L416.3 936.2L417.6 938.1M432.4 955.4L433.4 957.5L434.8 960.3L436.2 963.2L437.6 965.6L439 967.8L440.4 970L441.9 972.2L443.5 974.3L445.2 976.5L446.9 978.6L449.2 981.3L452 984.3L454.8 987.3L457.4 989.9L457.7 990.3M478.6 997.8L478.9 994.7L479.2 991L479.7 987.4L480.3 984.2L481.2 981.1L482.3 978.1L483.5 975L484.8 971.9L485.9 968.7L486.8 965.6L487.5 962.1L488.1 958.1L488.5 954.1L488.9 950.5L488.9 950.2M493.7 918L494 915.5L494.7 909.8L495.5 903.4L496.3 896.9L497 891.4L497.6 886.4L498.4 880.7L499.1 875L499.7 870.2L499.9 868.5M502.4 837.2L502.6 834.1L503 827.8L503.4 820.7L503.9 813.7L504.4 807.8L504.9 803L505.5 797.7L506.1 792.5L506.7 788L506.8 786.8M508.9 757.3L509 755L509.3 749.4L509.7 743L510 736.6L510.3 731L510.6 725.3L510.9 718.8L511.2 712.3L511.5 706.6L511.6 704.1M513.8 675.6L513.9 673.2L514.2 667.5L514.5 661.1L514.8 654.6L515 649L515.2 643.5L515.5 637.2L515.7 631L515.9 625.5L516 623.3M517.1 593.9L517.2 591.6L517.4 585.9L517.6 579.5L517.8 572.9L518 567L518.2 560.2L518.4 552.2L518.6 544.1L518.7 537L518.8 533.1" stroke="#008000"/>
<path d="M439.1 536L439.4 540.7L439.7 547.5L440.2 556.4L440.8 566L441.3 575L441.7 583.1L442.1 590.6L442.5 598L442.8 605.4L443.2 612.8L443.5 620.2L443.9 627.6L444.2 635.1L444.6 642.5L445 649.9L445.5 657.3L446 664.8L446.6 672.2L447.2 679.7L447.8 687.1L448.5 694.5L449.3 701.9L450 709.4L450.8 716.8L451.5 724.2L452.1 731.7L452.6 739.3L453.1 746.8L453.7 754L454.3 760.8L455 767.1L455.8 772.9L456.6 778.5L457.3 783.8L457.9 788.6L458.4 792.8L458.8 796.6L459.2 800.3L459.5 804.1L460 808.3L460.4 813.2L461 818.7L461.5 824.3L462 830L462.6 835.7L463.1 841.3L463.7 846.9L464.2 852.5L464.8 858L465.4 863.3L466.1 868.5L466.8 873.5L467.6 878.4L468.3 883.1L469 887.2L469.6 890.8L470.2 894L470.7 896.9L471.3 899.7L471.8 902.3L472.4 904.6L472.8 906.7L473.4 908.7L474 910.3L474.7 911.5L475.4 912.3L476.1 912.8L476.9 913.1L477.7 913.2L478.4 913.2L479 912.9L479.6 912.3L480.2 911.6L480.7 910.8L481.2 909.6L481.7 908.1L482.1 906.1L482.5 903.9L482.8 901.2L483.3 897.5L483.9 892.3L484.6 885.6L485.4 878.3L486.1 870.9L486.7 864.1L487.2 857.9L487.6 852.2L487.9 846.7L488.3 841.2L488.6 835.7L489 830.1L489.4 824.5L489.8 819L490.1 813.4L490.5 807.8L490.8 802.4L491.1 796.9L491.4 791.4L491.7 785.7L492 779.4L492.4 772.6L492.8 765.1L493.2 757.2L493.6 748.4L494.1 737.3L494.6 722.8L495.2 705.5L495.8 687L496.4 668.5L497 651.2L497.6 635.5L498.2 620.8L498.9 606.7L499.4 593.3L499.9 580.7L500.4 569L500.8 558L501.1 548.2L501.3 541L501.5 536.0" stroke="#ff0000"/>
<path d="M288 533.1L288.3 548.5M290.1 576.9L290.1 577.4L290.6 581.1L291.1 585.4L291.5 590L291.9 594.2L292.3 600.6L292.6 608.5L292.8 616.8L293 624.1L293.1 628.3M295.2 658.6L295.3 659.4L295.7 663.5L296.2 668.3L296.7 673.3L297.1 677.8L297.5 684L297.9 691.5L298.3 699.3L298.6 706.2L298.8 709.9M300.3 739.3L300.5 740.7L301 745.4L301.5 750.8L302.1 756.3L302.6 761.3L303.2 767.3L303.9 774.3L304.6 781.5L305.2 787.8L305.5 790.9M307 822.1L307.2 823.7L307.7 828.6L308.3 834.3L309 839.9L309.5 845L310.1 850.7L310.9 857.3L311.6 864L312.3 869.8L312.6 872.5M316 903.7L316.3 905.8L317.1 911.1L318.1 917.1L319 923.2L319.7 928.5L320.4 933.8L321.1 939.8L321.8 945.9L322.3 951.2L322.6 953.2M328.2 984.5L328.4 986.3L329.2 991.4L330.1 997.3L331 1003.1L331.8 1008.3L332.7 1013.7L333.8 1020L335 1026.4L336 1031.9L336.4 1034.3M344.5 1064.8L345 1067L346.2 1072.3L347.6 1078.2L349 1084L350.3 1088.7L351.3 1091.8L352.3 1094.8L353.4 1097.7L354.5 1100.4L355.7 1103L356.8 1105.4L357.8 1107.4L359 1109.4L360.3 1111.4L360.7 1112.1M375.5 1131.4L377.6 1132.2L380.5 1133.4L383.3 1134.7L385.6 1136L387.6 1137.4L389.6 1138.9L391.6 1140.5L393.4 1142.3L395.2 1144.2L396.8 1146.2L398.6 1149.2L400.5 1152.9L402.3 1156.8L403.7 1160.3L404 1160.9M416.5 1187.2L416.7 1187.5L418.1 1190.9L419.7 1194.7L421.3 1198.5L422.7 1201.9L424 1205L425.3 1208.1L426.6 1211.3L427.8 1214.4L429.1 1217.5L430.2 1220.5L431.3 1223.4L432.4 1226.6L433.5 1229.8L434.4 1232.4M450.9 1251.5L452.9 1251.8L455.7 1251.9L458.2 1251.7L459.9 1251.1L460.8 1250.2L461.4 1249L461.8 1247.6L462 1246L462.3 1244.4L462.6 1242.7L463 1240L463.3 1237.1L463.6 1233.9L463.8 1230.6L464.1 1227.3L464.5 1224.2L465.1 1220.8L465.9 1216.9L466.7 1213.1L467.4 1209.8L467.5 1209.5M471 1180.2L471.1 1179L471.1 1174.6L471.2 1169.6L471.4 1164.5L471.5 1160L471.6 1155.7L471.7 1151.3L471.9 1146.8L472.1 1142.5L472.5 1138.5L473 1135L473.5 1132.9L474.3 1130.8L475.1 1128.8L475.2 1128.3M477.6 1098.6L477.7 1097L477.9 1092.1L478.2 1086.5L478.5 1080.8L478.8 1075.7L479.2 1069.9L479.7 1063.1L480.2 1056.1L480.7 1050.1L480.9 1047.2M483.2 1016.9L483.3 1014.8L483.6 1009.5L483.9 1003.4L484.2 997.3L484.5 992L484.8 986.7L485 980.5L485.3 974.4L485.6 969L485.7 966.9M487.2 936.9L487.4 934.8L487.7 929.5L488.2 923.4L488.6 917.3L489 912L489.4 906.5L490 900.2L490.5 893.9L490.9 888.4L491.1 886.1M491.9 856.9L492 854.6L492.2 849.1L492.4 842.8L492.6 836.5L492.8 831L493 825.7L493.2 819.6L493.4 813.5L493.6 808.2L493.7 806.1M494.7 776.9L494.8 774.6L495 769.1L495.2 762.8L495.4 756.5L495.6 751L495.8 745.5L496 739.2L496.2 732.9L496.4 727.4L496.5 725.1M497.4 696.9L497.5 694.6L497.6 689.1L497.8 682.8L498 676.5L498.2 671L498.4 665.5L498.6 659.2L498.8 652.9L499 647.4L499.1 645.1M499.9 616.9L500 614.6L500.2 609.1L500.4 602.8L500.6 596.5L500.8 591L501 585.5L501.2 579.2L501.4 572.9L501.6 567.4L501.7 565.1M502.3 536.9L502.3 533.1" stroke="#ff0000"/>
<path d="M432 536L432.4 539.6L433 544.8L433.8 551.6L434.7 559L435.7 565.8L436.6 571.9L437.5 577.6L438.5 583.1L439.4 588.6L440.4 594.3L441.3 600.1L442.3 606L443.2 612L444.1 617.9L445 623.9L445.9 629.9L446.9 635.9L447.8 641.9L448.7 647.7L449.7 653.3L450.6 658.5L451.5 663.5L452.4 668.4L453.4 673.1L454.3 677.6L455.2 682L456.1 686.3L457 690.4L457.9 694.3L458.9 697.9L459.8 701L460.7 703.8L461.6 706.5L462.6 708.9L463.5 710.8L464.3 712.3L465.1 713.5L465.9 714.6L466.6 715.7L467.3 717L467.9 718.6L468.4 720.4L469 722.4L469.5 724.2L470.1 725.9L470.8 727.4L471.4 728.7L472.2 729.9L473 730.8L473.8 731.4L474.7 731.5L475.6 731.3L476.5 730.9L477.5 730.3L478.4 729.6L479.4 728.8L480.4 727.8L481.3 726.7L482.3 725.5L483.1 724L484 722.2L484.8 720.1L485.5 717.8L486.2 715.4L486.8 712.8L487.3 709.8L487.7 706.6L488 703.2L488.3 699.7L488.6 696.2L489 692.6L489.3 689L489.7 685.2L490.1 681.5L490.5 677.8L491 674.2L491.5 670.5L491.9 666.9L492.4 663L492.9 658.7L493.4 653.8L493.8 648.4L494.3 642.8L494.7 637.1L495.1 631.4L495.5 625.8L495.8 620.2L496.2 614.7L496.6 609.1L497 603.5L497.5 597.8L498.1 592.1L498.7 586.5L499.2 581.1L499.7 576.2L500.2 571.9L500.6 568.1L500.9 564.4L501.3 560.7L501.6 556.6L501.9 552L502.3 546.9L502.6 542.1L502.8 538.5L502.9 536.0" stroke="#0000ff"/>
<path d="M317.8 553.7L318 555.1L318.5 559.8L319.1 565.2L319.7 570.7L320.3 575.7L321 581.7L321.8 588.8L322.6 596L323.3 602.4L323.7 605.6M328.3 634.5L328.6 637.8L329.1 644.2L329.7 651.6L330.3 658.7L330.9 664.8L331.5 669.8L332.1 675.3L332.8 680.7L333.4 685.3L333.6 686.7M337.2 716.1L337.4 718.5L337.9 724.2L338.4 730.6L339 737.1L339.6 742.7L340.3 748.2L341.2 754.5L342.2 760.7L343 766.2L343.4 768.4M346.1 797.9L346.4 799.9L347.1 805.2L347.9 811.3L348.7 817.4L349.4 822.7L350 828.1L350.7 834.4L351.4 840.7L352 846.1L352.3 848.4M356.2 879.6L356.4 882.1L356.9 887.7L357.5 894.2L358.2 900.6L358.7 906.2L359.2 911.4L359.8 917.3L360.4 923.1L361 928.2L361.2 930.0M363.6 961.3L363.8 962.9L364.4 967.8L365 973.4L365.6 979.1L366.1 984.2L366.6 989.9L367.3 996.5L367.9 1003.2L368.4 1009L368.6 1011.7M372 1041.8L372.2 1044.2L372.7 1049.9L373.4 1056.3L374 1062.7L374.5 1068.3L375 1073.6L375.6 1079.7L376.2 1085.7L376.8 1091L377 1093.0M380.6 1122.4L380.8 1125L381.2 1130.9L381.7 1137.5L382.3 1144.2L382.8 1149.9L383.4 1155.3L384.1 1161.4L384.9 1167.4L385.5 1172.7L385.8 1174.7M389.9 1203.4L390.1 1205.2L390.5 1210.2L391 1216L391.5 1221.8L392.1 1227L392.9 1232.8L393.9 1239.5L394.9 1246.4L395.8 1252.3L396.3 1255.1M400.5 1284.8L400.8 1286.8L401.5 1292.1L402.4 1298.1L403.3 1304.2L404.2 1309.5L405.3 1315.2L406.7 1321.7L408.1 1328.2L409.4 1334L410 1336.6M418.5 1364.8L418.6 1365.1L419.9 1368.4L421.3 1371.9L423 1375.2L424.6 1377.7L426 1379.2L427.4 1380.5L429 1381.7L430.6 1382.7L432.3 1383.6L433.9 1384.2L435.4 1384.6L437 1384.9L438.7 1385L440.3 1384.9L441.8 1384.6L443.2 1384.2L444.6 1383.3L446.1 1382L447.4 1380.5L447.8 1380.1M454.9 1350.5L455.2 1348.7L456.1 1343.9L457.1 1338.4L458.1 1333L458.9 1328.5L459.4 1325.2L460 1322L460.4 1318.9L460.9 1315.8L461.3 1312.8L461.7 1309.9L462 1307L462.4 1303.7L462.7 1300.5L462.9 1298.2M467.2 1268.9L467.4 1266.4L467.9 1260.7L468.5 1254.1L469.1 1247.6L469.6 1242L470.1 1236.7L470.6 1230.6L471.1 1224.6L471.5 1219.3L471.6 1217.3M474.6 1188.6L474.7 1186.4L475.2 1180.9L475.7 1174.7L476.2 1168.4L476.6 1162.9L477 1157.3L477.4 1150.8L477.8 1144.4L478.1 1138.7L478.2 1136.3M480.9 1106.9L481 1104.7L481.2 1099.3L481.4 1093L481.7 1086.8L481.8 1081.3L481.9 1075.7L482 1069.2L482 1062.8L482.1 1057.1L482.1 1054.7M484.2 1025.4L484.3 1023.8L484.7 1019L485.1 1013.4L485.5 1007.7L485.8 1002.7L486.2 996.9L486.6 990.1L487 983.2L487.4 977.2L487.5 974.3M487.9 944L488 942L488.3 936.7L488.6 930.6L488.9 924.5L489.2 919.2L489.5 913.6L489.7 907.2L490 900.7L490.3 895L490.4 892.6M491.1 862.3L491.3 859.8L491.5 854.2L491.8 847.7L492.1 841.3L492.3 835.7L492.4 830.5L492.6 824.6L492.7 818.8L492.8 813.7L492.8 811.9M495.2 780.5L495.2 778.3L495.3 772.9L495.4 766.7L495.5 760.4L495.6 755L495.7 749.5L495.8 743.2L495.9 736.9L496 731.4L496 729.1M497.1 698.8L497.1 696.5L497.2 691L497.3 684.7L497.4 678.5L497.5 673L497.6 667.7L497.7 661.6L497.8 655.5L497.8 650.2L497.9 648.1M500.8 600.4L500.8 599.9L500.9 596.2L501 591.9L501.1 587.7L501.2 584L501.3 580.3L501.4 576.1L501.5 571.8L501.5 568.1L501.5 567.6M502.9 551.9L502.9 533.1" stroke="#0000ff"/>
</g>
<g fill="#000" shape-rendering="crispEdges">
<rect x="193" y="31" width="3" height="1401.5"/>
<rect x="2090" y="31" width="4" height="1401.5"/>
<rect x="176" y="31" width="1918" height="4"/>
<rect x="176" y="1413" width="1918" height="3"/>
<rect x="185" y="80" width="9" height="4"/>
<rect x="185" y="129" width="9" height="4"/>
<rect x="185" y="179" width="9" height="4"/>
<rect x="176" y="228" width="18" height="3"/>
<rect x="185" y="277" width="9" height="4"/>
<rect x="185" y="327" width="9" height="4"/>
<rect x="185" y="376" width="9" height="4"/>
<rect x="176" y="425" width="18" height="3"/>
<rect x="185" y="475" width="9" height="4"/>
<rect x="185" y="524" width="9" height="4"/>
<rect x="185" y="573" width="9" height="4"/>
<rect x="176" y="623" width="18" height="3"/>
<rect x="185" y="672" width="9" height="4"/>
<rect x="185" y="721" width="9" height="4"/>
<rect x="185" y="771" width="9" height="4"/>
<rect x="176" y="820" width="18" height="3"/>
<rect x="185" y="869" width="9" height="4"/>
<rect x="185" y="919" width="9" height="4"/>
<rect x="185" y="968" width="9" height="4"/>
<rect x="176" y="1017" width="18" height="3"/>
<rect x="185" y="1067" width="9" height="4"/>
<rect x="185" y="1116" width="9" height="4"/>
<rect x="185" y="1165" width="9" height="4"/>
<rect x="176" y="1215" width="18" height="3"/>
<rect x="185" y="1264" width="9" height="4"/>
<rect x="185" y="1313" width="9" height="4"/>
<rect x="185" y="1363" width="9" height="4"/>
<rect x="261" y="1414" width="3" height="10"/>
<rect x="329" y="1414" width="3" height="10"/>
<rect x="396" y="1414" width="3" height="10"/>
<rect x="464" y="1414" width="3" height="18.5"/>
<rect x="532" y="1414" width="3" height="10"/>
<rect x="600" y="1414" width="3" height="10"/>
<rect x="667" y="1414" width="3" height="10"/>
<rect x="735" y="1414" width="3" height="18.5"/>
<rect x="803" y="1414" width="3" height="10"/>
<rect x="871" y="1414" width="3" height="10"/>
<rect x="938" y="1414" width="3" height="10"/>
<rect x="1006" y="1414" width="3" height="18.5"/>
<rect x="1074" y="1414" width="3" height="10"/>
<rect x="1142" y="1414" width="3" height="10"/>
<rect x="1210" y="1414" width="3" height="10"/>
<rect x="1277" y="1414" width="3" height="18.5"/>
<rect x="1345" y="1414" width="3" height="10"/>
<rect x="1413" y="1414" width="3" height="10"/>
<rect x="1481" y="1414" width="3" height="10"/>
<rect x="1548" y="1414" width="3" height="18.5"/>
<rect x="1616" y="1414" width="3" height="10"/>
<rect x="1684" y="1414" width="3" height="10"/>
<rect x="1752" y="1414" width="3" height="10"/>
<rect x="1819" y="1414" width="3" height="18.5"/>
<rect x="1887" y="1414" width="3" height="10"/>
<rect x="1955" y="1414" width="3" height="10"/>
<rect x="2023" y="1414" width="3" height="10"/>
</g>
<g stroke="#0e0e0e" fill="none" stroke-width="7" shape-rendering="crispEdges">
<path d="M222.3 534.5H579" stroke-dasharray="6.6 5.9"/>
<path d="M222 541V1434.8" stroke-width="8" stroke-dasharray="6.7 5.8"/>
<path d="M580.5 539.4V1432.8" stroke-dasharray="6.6 5.89"/>
<path d="M576.9 1434.5H222.6" stroke-dasharray="7.4 5.1"/>
</g>
<text class="ax" transform="translate(168.3 47.1) scale(0.93 1)" font-size="40" text-anchor="end">0.2</text>
<text class="ax" transform="translate(168.3 244.5) scale(0.93 1)" font-size="40" text-anchor="end">0.0</text>
<text class="ax" transform="translate(168.3 441.8) scale(0.93 1)" font-size="40" text-anchor="end">-0.2</text>
<text class="ax" transform="translate(168.3 639.2) scale(0.93 1)" font-size="40" text-anchor="end">-0.4</text>
<text class="ax" transform="translate(168.3 836.5) scale(0.93 1)" font-size="40" text-anchor="end">-0.6</text>
<text class="ax" transform="translate(168.3 1033.9) scale(0.93 1)" font-size="40" text-anchor="end">-0.8</text>
<text class="ax" transform="translate(168.3 1231.2) scale(0.93 1)" font-size="40" text-anchor="end">-1.0</text>
<text class="ax" transform="translate(168.3 1428.6) scale(0.93 1)" font-size="40" text-anchor="end">-1.2</text>
<text class="ax" transform="translate(194.8 1466.0) scale(0.93 1)" font-size="40" text-anchor="middle">60</text>
<text class="ax" transform="translate(465.9 1466.0) scale(0.93 1)" font-size="40" text-anchor="middle">80</text>
<text class="ax" transform="translate(736.9 1466.0) scale(0.93 1)" font-size="40" text-anchor="middle">100</text>
<text class="ax" transform="translate(1008.0 1466.0) scale(0.93 1)" font-size="40" text-anchor="middle">120</text>
<text class="ax" transform="translate(1279.1 1466.0) scale(0.93 1)" font-size="40" text-anchor="middle">140</text>
<text class="ax" transform="translate(1550.2 1466.0) scale(0.93 1)" font-size="40" text-anchor="middle">160</text>
<text class="ax" transform="translate(1821.2 1466.0) scale(0.93 1)" font-size="40" text-anchor="middle">180</text>
<text class="ax" transform="translate(2092.3 1466.0) scale(0.93 1)" font-size="40" text-anchor="middle">200</text>
<text class="ax" transform="translate(1147.3 1533.7) scale(0.9 1)" font-size="46" text-anchor="middle">Temperature (°C)</text>
<text class="ax" transform="translate(52.2 725.4) rotate(-90) scale(0.975 1)" font-size="46" text-anchor="middle">Heat Flow (W/g)</text>
<text class="ax" transform="translate(57.5 1523.0) scale(0.93 1)" font-size="32" text-anchor="start">Exo Up</text>
<g clip-path="url(#cpage)"><text class="ax" transform="translate(1873.0 1523.0) scale(0.951 1)" font-size="32" text-anchor="start">Universal V4.5A TA</text></g>
<g shape-rendering="crispEdges">
<rect x="651" y="744" width="142" height="13" fill="#00b050"/>
<rect x="658" y="847" width="38" height="13" fill="#00b050"/>
<rect x="708" y="847" width="38" height="13" fill="#00b050"/>
<rect x="758" y="847" width="38" height="13" fill="#00b050"/>
<rect x="651" y="946" width="142" height="13" fill="#ff0000"/>
<rect x="658" y="1049" width="38" height="14" fill="#ff0000"/>
<rect x="708" y="1049" width="38" height="14" fill="#ff0000"/>
<rect x="758" y="1049" width="38" height="14" fill="#ff0000"/>
<rect x="658" y="1159" width="143" height="14" fill="#0424aa"/>
<rect x="658" y="1255" width="38" height="14" fill="#0424aa"/>
<rect x="708" y="1255" width="38" height="14" fill="#0424aa"/>
<rect x="758" y="1255" width="38" height="14" fill="#0424aa"/>
</g>
<text class="lg" x="823.8" y="771.8" font-size="70.5" textLength="345.2" lengthAdjust="spacingAndGlyphs">PP/BF t=0m</text>
<text class="lg" x="823.8" y="895.4" font-size="70.5" textLength="377.6" lengthAdjust="spacingAndGlyphs">PP/BF t=12m</text>
<text class="lg" x="823.8" y="995.9" font-size="70.5" textLength="481.1" lengthAdjust="spacingAndGlyphs">PP/BF/MA t=0m</text>
<text class="lg" x="823.8" y="1095.6" font-size="70.5" textLength="514.6" lengthAdjust="spacingAndGlyphs">PP/BF/MA t=12m</text>
<text class="lg" x="823.8" y="1195.5" font-size="70.5" textLength="436.4" lengthAdjust="spacingAndGlyphs">PP/BF/CI t=0m</text>
<text class="lg" x="823.8" y="1293.8" font-size="70.5" textLength="468.8" lengthAdjust="spacingAndGlyphs">PP/BF/CI t=12m</text>
</svg></body></html>
